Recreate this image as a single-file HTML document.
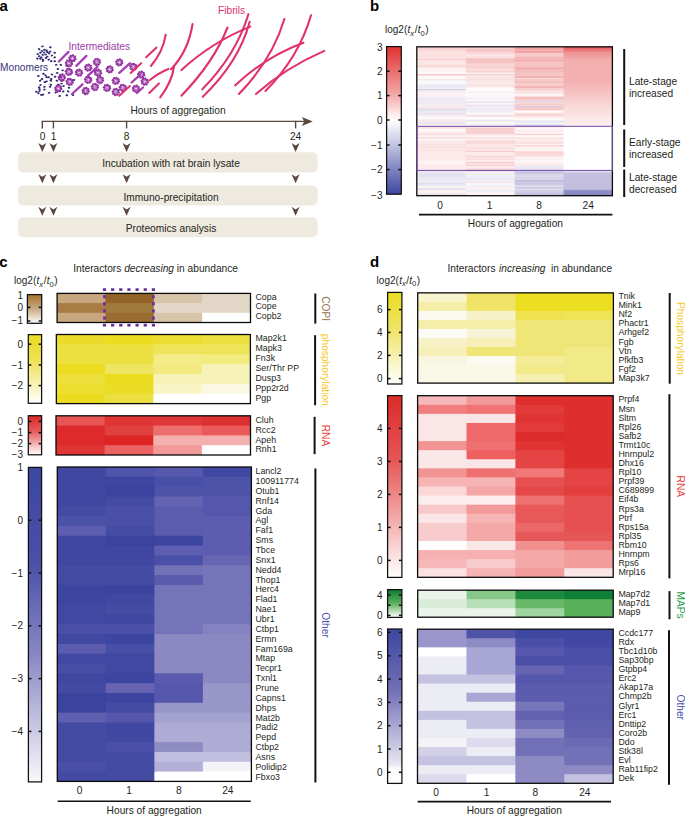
<!DOCTYPE html>
<html><head><meta charset="utf-8"><title>Figure</title>
<style>html,body{margin:0;padding:0;background:#fff;width:685px;height:817px;overflow:hidden;font-family:"Liberation Sans", sans-serif;} svg{display:block}</style>
</head><body>
<svg width="685" height="817" viewBox="0 0 685 817" font-family='"Liberation Sans", sans-serif'><text x="-0.50" y="10.50" font-size="15" text-anchor="start" fill="#000" font-weight="bold">a</text>
<text x="370.00" y="10.50" font-size="15" text-anchor="start" fill="#000" font-weight="bold">b</text>
<text x="-0.70" y="267.20" font-size="15" text-anchor="start" fill="#000" font-weight="bold">c</text>
<text x="369.90" y="267.20" font-size="15" text-anchor="start" fill="#000" font-weight="bold">d</text>
<text x="0.00" y="71.40" font-size="10.2" text-anchor="start" fill="#38367c" >Monomers</text>
<text x="68.40" y="50.30" font-size="10.2" text-anchor="start" fill="#9c3aa6" >Intermediates</text>
<text x="218.00" y="14.20" font-size="10.2" text-anchor="start" fill="#e0306a" >Fibrils</text>
<ellipse cx="42.5" cy="46.4" rx="1.3" ry="0.95" fill="#2f2c72" transform="rotate(-3 42.5 46.4)"/>
<ellipse cx="50.3" cy="47.3" rx="1.3" ry="0.95" fill="#2f2c72" transform="rotate(4 50.3 47.3)"/>
<ellipse cx="39.1" cy="49.1" rx="1.3" ry="0.95" fill="#2f2c72" transform="rotate(25 39.1 49.1)"/>
<ellipse cx="44.4" cy="49.8" rx="1.3" ry="0.95" fill="#2f2c72" transform="rotate(-2 44.4 49.8)"/>
<ellipse cx="42.0" cy="50.9" rx="1.3" ry="0.95" fill="#2f2c72" transform="rotate(0 42.0 50.9)"/>
<ellipse cx="47.3" cy="52.0" rx="1.3" ry="0.95" fill="#2f2c72" transform="rotate(5 47.3 52.0)"/>
<ellipse cx="50.1" cy="51.6" rx="1.3" ry="0.95" fill="#2f2c72" transform="rotate(-19 50.1 51.6)"/>
<ellipse cx="54.7" cy="52.8" rx="1.3" ry="0.95" fill="#2f2c72" transform="rotate(1 54.7 52.8)"/>
<ellipse cx="37.7" cy="54.1" rx="1.3" ry="0.95" fill="#2f2c72" transform="rotate(8 37.7 54.1)"/>
<ellipse cx="42.7" cy="54.8" rx="1.3" ry="0.95" fill="#2f2c72" transform="rotate(18 42.7 54.8)"/>
<ellipse cx="40.5" cy="52.7" rx="1.3" ry="0.95" fill="#2f2c72" transform="rotate(-24 40.5 52.7)"/>
<ellipse cx="45.5" cy="54.4" rx="1.3" ry="0.95" fill="#2f2c72" transform="rotate(-12 45.5 54.4)"/>
<ellipse cx="51.9" cy="55.5" rx="1.3" ry="0.95" fill="#2f2c72" transform="rotate(-25 51.9 55.5)"/>
<ellipse cx="49.0" cy="53.4" rx="1.3" ry="0.95" fill="#2f2c72" transform="rotate(19 49.0 53.4)"/>
<ellipse cx="47.3" cy="56.6" rx="1.3" ry="0.95" fill="#2f2c72" transform="rotate(12 47.3 56.6)"/>
<ellipse cx="54.7" cy="57.3" rx="1.3" ry="0.95" fill="#2f2c72" transform="rotate(-27 54.7 57.3)"/>
<ellipse cx="37.3" cy="58.7" rx="1.3" ry="0.95" fill="#2f2c72" transform="rotate(29 37.3 58.7)"/>
<ellipse cx="40.2" cy="58.7" rx="1.3" ry="0.95" fill="#2f2c72" transform="rotate(28 40.2 58.7)"/>
<ellipse cx="42.7" cy="59.4" rx="1.3" ry="0.95" fill="#2f2c72" transform="rotate(9 42.7 59.4)"/>
<ellipse cx="45.9" cy="58.0" rx="1.3" ry="0.95" fill="#2f2c72" transform="rotate(7 45.9 58.0)"/>
<ellipse cx="48.7" cy="59.6" rx="1.3" ry="0.95" fill="#2f2c72" transform="rotate(-21 48.7 59.6)"/>
<ellipse cx="51.2" cy="61.2" rx="1.3" ry="0.95" fill="#2f2c72" transform="rotate(-29 51.2 61.2)"/>
<ellipse cx="54.7" cy="61.2" rx="1.3" ry="0.95" fill="#2f2c72" transform="rotate(2 54.7 61.2)"/>
<ellipse cx="43.0" cy="60.8" rx="1.3" ry="0.95" fill="#2f2c72" transform="rotate(-26 43.0 60.8)"/>
<ellipse cx="41.2" cy="57.3" rx="1.3" ry="0.95" fill="#2f2c72" transform="rotate(-19 41.2 57.3)"/>
<ellipse cx="39.1" cy="56.2" rx="1.3" ry="0.95" fill="#2f2c72" transform="rotate(-15 39.1 56.2)"/>
<ellipse cx="44.0" cy="52.5" rx="1.3" ry="0.95" fill="#2f2c72" transform="rotate(-28 44.0 52.5)"/>
<ellipse cx="46.5" cy="50.5" rx="1.3" ry="0.95" fill="#2f2c72" transform="rotate(-2 46.5 50.5)"/>
<ellipse cx="56.2" cy="64.9" rx="1.3" ry="0.95" fill="#2f2c72" transform="rotate(-4 56.2 64.9)"/>
<ellipse cx="60.8" cy="64.9" rx="1.3" ry="0.95" fill="#2f2c72" transform="rotate(21 60.8 64.9)"/>
<ellipse cx="57.9" cy="69.0" rx="1.3" ry="0.95" fill="#2f2c72" transform="rotate(1 57.9 69.0)"/>
<ellipse cx="62.6" cy="70.4" rx="1.3" ry="0.95" fill="#2f2c72" transform="rotate(8 62.6 70.4)"/>
<ellipse cx="57.2" cy="72.9" rx="1.3" ry="0.95" fill="#2f2c72" transform="rotate(-0 57.2 72.9)"/>
<ellipse cx="66.8" cy="65.8" rx="1.3" ry="0.95" fill="#2f2c72" transform="rotate(10 66.8 65.8)"/>
<ellipse cx="38.4" cy="76.0" rx="1.3" ry="0.95" fill="#2f2c72" transform="rotate(-3 38.4 76.0)"/>
<ellipse cx="43.4" cy="73.8" rx="1.3" ry="0.95" fill="#2f2c72" transform="rotate(-13 43.4 73.8)"/>
<ellipse cx="45.5" cy="75.4" rx="1.3" ry="0.95" fill="#2f2c72" transform="rotate(30 45.5 75.4)"/>
<ellipse cx="51.9" cy="74.5" rx="1.3" ry="0.95" fill="#2f2c72" transform="rotate(30 51.9 74.5)"/>
<ellipse cx="46.6" cy="77.2" rx="1.3" ry="0.95" fill="#2f2c72" transform="rotate(20 46.6 77.2)"/>
<ellipse cx="48.7" cy="77.2" rx="1.3" ry="0.95" fill="#2f2c72" transform="rotate(12 48.7 77.2)"/>
<ellipse cx="55.1" cy="76.8" rx="1.3" ry="0.95" fill="#2f2c72" transform="rotate(-11 55.1 76.8)"/>
<ellipse cx="42.0" cy="79.0" rx="1.3" ry="0.95" fill="#2f2c72" transform="rotate(-16 42.0 79.0)"/>
<ellipse cx="51.2" cy="79.0" rx="1.3" ry="0.95" fill="#2f2c72" transform="rotate(-13 51.2 79.0)"/>
<ellipse cx="40.2" cy="80.7" rx="1.3" ry="0.95" fill="#2f2c72" transform="rotate(-26 40.2 80.7)"/>
<ellipse cx="44.8" cy="82.1" rx="1.3" ry="0.95" fill="#2f2c72" transform="rotate(16 44.8 82.1)"/>
<ellipse cx="46.6" cy="81.4" rx="1.3" ry="0.95" fill="#2f2c72" transform="rotate(-6 46.6 81.4)"/>
<ellipse cx="50.8" cy="80.7" rx="1.3" ry="0.95" fill="#2f2c72" transform="rotate(21 50.8 80.7)"/>
<ellipse cx="56.9" cy="80.7" rx="1.3" ry="0.95" fill="#2f2c72" transform="rotate(-7 56.9 80.7)"/>
<ellipse cx="60.8" cy="76.8" rx="1.3" ry="0.95" fill="#2f2c72" transform="rotate(27 60.8 76.8)"/>
<ellipse cx="61.8" cy="80.7" rx="1.3" ry="0.95" fill="#2f2c72" transform="rotate(21 61.8 80.7)"/>
<ellipse cx="40.5" cy="85.0" rx="1.3" ry="0.95" fill="#2f2c72" transform="rotate(-30 40.5 85.0)"/>
<ellipse cx="44.4" cy="86.8" rx="1.3" ry="0.95" fill="#2f2c72" transform="rotate(-17 44.4 86.8)"/>
<ellipse cx="50.8" cy="84.6" rx="1.3" ry="0.95" fill="#2f2c72" transform="rotate(25 50.8 84.6)"/>
<ellipse cx="50.1" cy="86.8" rx="1.3" ry="0.95" fill="#2f2c72" transform="rotate(-2 50.1 86.8)"/>
<ellipse cx="58.3" cy="84.6" rx="1.3" ry="0.95" fill="#2f2c72" transform="rotate(29 58.3 84.6)"/>
<ellipse cx="61.5" cy="83.6" rx="1.3" ry="0.95" fill="#2f2c72" transform="rotate(-6 61.5 83.6)"/>
<ellipse cx="63.6" cy="86.0" rx="1.3" ry="0.95" fill="#2f2c72" transform="rotate(-26 63.6 86.0)"/>
<ellipse cx="39.1" cy="87.5" rx="1.3" ry="0.95" fill="#2f2c72" transform="rotate(8 39.1 87.5)"/>
<ellipse cx="39.5" cy="89.2" rx="1.3" ry="0.95" fill="#2f2c72" transform="rotate(17 39.5 89.2)"/>
<ellipse cx="44.4" cy="89.6" rx="1.3" ry="0.95" fill="#2f2c72" transform="rotate(-14 44.4 89.6)"/>
<ellipse cx="39.5" cy="91.0" rx="1.3" ry="0.95" fill="#2f2c72" transform="rotate(-25 39.5 91.0)"/>
<ellipse cx="36.3" cy="91.7" rx="1.3" ry="0.95" fill="#2f2c72" transform="rotate(-10 36.3 91.7)"/>
<ellipse cx="38.4" cy="93.2" rx="1.3" ry="0.95" fill="#2f2c72" transform="rotate(28 38.4 93.2)"/>
<ellipse cx="41.2" cy="94.9" rx="1.3" ry="0.95" fill="#2f2c72" transform="rotate(15 41.2 94.9)"/>
<ellipse cx="43.0" cy="94.6" rx="1.3" ry="0.95" fill="#2f2c72" transform="rotate(-23 43.0 94.6)"/>
<ellipse cx="49.1" cy="92.8" rx="1.3" ry="0.95" fill="#2f2c72" transform="rotate(-15 49.1 92.8)"/>
<ellipse cx="55.8" cy="92.4" rx="1.3" ry="0.95" fill="#2f2c72" transform="rotate(-24 55.8 92.4)"/>
<ellipse cx="63.3" cy="91.4" rx="1.3" ry="0.95" fill="#2f2c72" transform="rotate(-26 63.3 91.4)"/>
<ellipse cx="68.2" cy="91.4" rx="1.3" ry="0.95" fill="#2f2c72" transform="rotate(18 68.2 91.4)"/>
<ellipse cx="59.7" cy="96.0" rx="1.3" ry="0.95" fill="#2f2c72" transform="rotate(-19 59.7 96.0)"/>
<ellipse cx="66.8" cy="95.3" rx="1.3" ry="0.95" fill="#2f2c72" transform="rotate(4 66.8 95.3)"/>
<ellipse cx="69.0" cy="87.8" rx="1.3" ry="0.95" fill="#2f2c72" transform="rotate(-3 69.0 87.8)"/>
<ellipse cx="74.0" cy="80.0" rx="1.3" ry="0.95" fill="#2f2c72" transform="rotate(-19 74.0 80.0)"/>
<ellipse cx="73.0" cy="95.0" rx="1.3" ry="0.95" fill="#2f2c72" transform="rotate(14 73.0 95.0)"/>
<circle cx="75.28" cy="58.98" r="1.26" fill="#9330a0"/><circle cx="74.02" cy="60.85" r="1.26" fill="#9330a0"/><circle cx="71.82" cy="61.28" r="1.26" fill="#9330a0"/><circle cx="69.95" cy="60.02" r="1.26" fill="#9330a0"/><circle cx="69.52" cy="57.82" r="1.26" fill="#9330a0"/><circle cx="70.78" cy="55.95" r="1.26" fill="#9330a0"/><circle cx="72.98" cy="55.52" r="1.26" fill="#9330a0"/><circle cx="74.85" cy="56.78" r="1.26" fill="#9330a0"/><circle cx="72.40" cy="58.40" r="1.26" fill="none" stroke="#9330a0" stroke-width="0.8"/>
<circle cx="71.78" cy="63.88" r="1.26" fill="#9330a0"/><circle cx="70.52" cy="65.75" r="1.26" fill="#9330a0"/><circle cx="68.32" cy="66.18" r="1.26" fill="#9330a0"/><circle cx="66.45" cy="64.92" r="1.26" fill="#9330a0"/><circle cx="66.02" cy="62.72" r="1.26" fill="#9330a0"/><circle cx="67.28" cy="60.85" r="1.26" fill="#9330a0"/><circle cx="69.48" cy="60.42" r="1.26" fill="#9330a0"/><circle cx="71.35" cy="61.68" r="1.26" fill="#9330a0"/><circle cx="68.90" cy="63.30" r="1.26" fill="none" stroke="#9330a0" stroke-width="0.8"/>
<circle cx="71.78" cy="72.38" r="1.26" fill="#9330a0"/><circle cx="70.52" cy="74.25" r="1.26" fill="#9330a0"/><circle cx="68.32" cy="74.68" r="1.26" fill="#9330a0"/><circle cx="66.45" cy="73.42" r="1.26" fill="#9330a0"/><circle cx="66.02" cy="71.22" r="1.26" fill="#9330a0"/><circle cx="67.28" cy="69.35" r="1.26" fill="#9330a0"/><circle cx="69.48" cy="68.92" r="1.26" fill="#9330a0"/><circle cx="71.35" cy="70.18" r="1.26" fill="#9330a0"/><circle cx="68.90" cy="71.80" r="1.26" fill="none" stroke="#9330a0" stroke-width="0.8"/>
<circle cx="81.88" cy="73.28" r="1.26" fill="#9330a0"/><circle cx="80.62" cy="75.15" r="1.26" fill="#9330a0"/><circle cx="78.42" cy="75.58" r="1.26" fill="#9330a0"/><circle cx="76.55" cy="74.32" r="1.26" fill="#9330a0"/><circle cx="76.12" cy="72.12" r="1.26" fill="#9330a0"/><circle cx="77.38" cy="70.25" r="1.26" fill="#9330a0"/><circle cx="79.58" cy="69.82" r="1.26" fill="#9330a0"/><circle cx="81.45" cy="71.08" r="1.26" fill="#9330a0"/><circle cx="79.00" cy="72.70" r="1.26" fill="none" stroke="#9330a0" stroke-width="0.8"/>
<circle cx="64.68" cy="78.08" r="1.26" fill="#9330a0"/><circle cx="63.42" cy="79.95" r="1.26" fill="#9330a0"/><circle cx="61.22" cy="80.38" r="1.26" fill="#9330a0"/><circle cx="59.35" cy="79.12" r="1.26" fill="#9330a0"/><circle cx="58.92" cy="76.92" r="1.26" fill="#9330a0"/><circle cx="60.18" cy="75.05" r="1.26" fill="#9330a0"/><circle cx="62.38" cy="74.62" r="1.26" fill="#9330a0"/><circle cx="64.25" cy="75.88" r="1.26" fill="#9330a0"/><circle cx="61.80" cy="77.50" r="1.26" fill="none" stroke="#9330a0" stroke-width="0.8"/>
<circle cx="72.58" cy="82.38" r="1.26" fill="#9330a0"/><circle cx="71.32" cy="84.25" r="1.26" fill="#9330a0"/><circle cx="69.12" cy="84.68" r="1.26" fill="#9330a0"/><circle cx="67.25" cy="83.42" r="1.26" fill="#9330a0"/><circle cx="66.82" cy="81.22" r="1.26" fill="#9330a0"/><circle cx="68.08" cy="79.35" r="1.26" fill="#9330a0"/><circle cx="70.28" cy="78.92" r="1.26" fill="#9330a0"/><circle cx="72.15" cy="80.18" r="1.26" fill="#9330a0"/><circle cx="69.70" cy="81.80" r="1.26" fill="none" stroke="#9330a0" stroke-width="0.8"/>
<circle cx="61.18" cy="89.08" r="1.26" fill="#9330a0"/><circle cx="59.92" cy="90.95" r="1.26" fill="#9330a0"/><circle cx="57.72" cy="91.38" r="1.26" fill="#9330a0"/><circle cx="55.85" cy="90.12" r="1.26" fill="#9330a0"/><circle cx="55.42" cy="87.92" r="1.26" fill="#9330a0"/><circle cx="56.68" cy="86.05" r="1.26" fill="#9330a0"/><circle cx="58.88" cy="85.62" r="1.26" fill="#9330a0"/><circle cx="60.75" cy="86.88" r="1.26" fill="#9330a0"/><circle cx="58.30" cy="88.50" r="1.26" fill="none" stroke="#9330a0" stroke-width="0.8"/>
<circle cx="91.08" cy="68.18" r="1.26" fill="#9330a0"/><circle cx="89.82" cy="70.05" r="1.26" fill="#9330a0"/><circle cx="87.62" cy="70.48" r="1.26" fill="#9330a0"/><circle cx="85.75" cy="69.22" r="1.26" fill="#9330a0"/><circle cx="85.32" cy="67.02" r="1.26" fill="#9330a0"/><circle cx="86.58" cy="65.15" r="1.26" fill="#9330a0"/><circle cx="88.78" cy="64.72" r="1.26" fill="#9330a0"/><circle cx="90.65" cy="65.98" r="1.26" fill="#9330a0"/><circle cx="88.20" cy="67.60" r="1.26" fill="none" stroke="#9330a0" stroke-width="0.8"/>
<circle cx="99.78" cy="62.58" r="1.26" fill="#9330a0"/><circle cx="98.52" cy="64.45" r="1.26" fill="#9330a0"/><circle cx="96.32" cy="64.88" r="1.26" fill="#9330a0"/><circle cx="94.45" cy="63.62" r="1.26" fill="#9330a0"/><circle cx="94.02" cy="61.42" r="1.26" fill="#9330a0"/><circle cx="95.28" cy="59.55" r="1.26" fill="#9330a0"/><circle cx="97.48" cy="59.12" r="1.26" fill="#9330a0"/><circle cx="99.35" cy="60.38" r="1.26" fill="#9330a0"/><circle cx="96.90" cy="62.00" r="1.26" fill="none" stroke="#9330a0" stroke-width="0.8"/>
<circle cx="100.88" cy="73.28" r="1.26" fill="#9330a0"/><circle cx="99.62" cy="75.15" r="1.26" fill="#9330a0"/><circle cx="97.42" cy="75.58" r="1.26" fill="#9330a0"/><circle cx="95.55" cy="74.32" r="1.26" fill="#9330a0"/><circle cx="95.12" cy="72.12" r="1.26" fill="#9330a0"/><circle cx="96.38" cy="70.25" r="1.26" fill="#9330a0"/><circle cx="98.58" cy="69.82" r="1.26" fill="#9330a0"/><circle cx="100.45" cy="71.08" r="1.26" fill="#9330a0"/><circle cx="98.00" cy="72.70" r="1.26" fill="none" stroke="#9330a0" stroke-width="0.8"/>
<circle cx="91.08" cy="80.38" r="1.26" fill="#9330a0"/><circle cx="89.82" cy="82.25" r="1.26" fill="#9330a0"/><circle cx="87.62" cy="82.68" r="1.26" fill="#9330a0"/><circle cx="85.75" cy="81.42" r="1.26" fill="#9330a0"/><circle cx="85.32" cy="79.22" r="1.26" fill="#9330a0"/><circle cx="86.58" cy="77.35" r="1.26" fill="#9330a0"/><circle cx="88.78" cy="76.92" r="1.26" fill="#9330a0"/><circle cx="90.65" cy="78.18" r="1.26" fill="#9330a0"/><circle cx="88.20" cy="79.80" r="1.26" fill="none" stroke="#9330a0" stroke-width="0.8"/>
<circle cx="102.88" cy="80.58" r="1.26" fill="#9330a0"/><circle cx="101.62" cy="82.45" r="1.26" fill="#9330a0"/><circle cx="99.42" cy="82.88" r="1.26" fill="#9330a0"/><circle cx="97.55" cy="81.62" r="1.26" fill="#9330a0"/><circle cx="97.12" cy="79.42" r="1.26" fill="#9330a0"/><circle cx="98.38" cy="77.55" r="1.26" fill="#9330a0"/><circle cx="100.58" cy="77.12" r="1.26" fill="#9330a0"/><circle cx="102.45" cy="78.38" r="1.26" fill="#9330a0"/><circle cx="100.00" cy="80.00" r="1.26" fill="none" stroke="#9330a0" stroke-width="0.8"/>
<circle cx="97.78" cy="87.58" r="1.26" fill="#9330a0"/><circle cx="96.52" cy="89.45" r="1.26" fill="#9330a0"/><circle cx="94.32" cy="89.88" r="1.26" fill="#9330a0"/><circle cx="92.45" cy="88.62" r="1.26" fill="#9330a0"/><circle cx="92.02" cy="86.42" r="1.26" fill="#9330a0"/><circle cx="93.28" cy="84.55" r="1.26" fill="#9330a0"/><circle cx="95.48" cy="84.12" r="1.26" fill="#9330a0"/><circle cx="97.35" cy="85.38" r="1.26" fill="#9330a0"/><circle cx="94.90" cy="87.00" r="1.26" fill="none" stroke="#9330a0" stroke-width="0.8"/>
<circle cx="88.58" cy="91.58" r="1.26" fill="#9330a0"/><circle cx="87.32" cy="93.45" r="1.26" fill="#9330a0"/><circle cx="85.12" cy="93.88" r="1.26" fill="#9330a0"/><circle cx="83.25" cy="92.62" r="1.26" fill="#9330a0"/><circle cx="82.82" cy="90.42" r="1.26" fill="#9330a0"/><circle cx="84.08" cy="88.55" r="1.26" fill="#9330a0"/><circle cx="86.28" cy="88.12" r="1.26" fill="#9330a0"/><circle cx="88.15" cy="89.38" r="1.26" fill="#9330a0"/><circle cx="85.70" cy="91.00" r="1.26" fill="none" stroke="#9330a0" stroke-width="0.8"/>
<circle cx="112.58" cy="69.98" r="1.26" fill="#9330a0"/><circle cx="111.32" cy="71.85" r="1.26" fill="#9330a0"/><circle cx="109.12" cy="72.28" r="1.26" fill="#9330a0"/><circle cx="107.25" cy="71.02" r="1.26" fill="#9330a0"/><circle cx="106.82" cy="68.82" r="1.26" fill="#9330a0"/><circle cx="108.08" cy="66.95" r="1.26" fill="#9330a0"/><circle cx="110.28" cy="66.52" r="1.26" fill="#9330a0"/><circle cx="112.15" cy="67.78" r="1.26" fill="#9330a0"/><circle cx="109.70" cy="69.40" r="1.26" fill="none" stroke="#9330a0" stroke-width="0.8"/>
<circle cx="122.18" cy="62.98" r="1.26" fill="#9330a0"/><circle cx="120.92" cy="64.85" r="1.26" fill="#9330a0"/><circle cx="118.72" cy="65.28" r="1.26" fill="#9330a0"/><circle cx="116.85" cy="64.02" r="1.26" fill="#9330a0"/><circle cx="116.42" cy="61.82" r="1.26" fill="#9330a0"/><circle cx="117.68" cy="59.95" r="1.26" fill="#9330a0"/><circle cx="119.88" cy="59.52" r="1.26" fill="#9330a0"/><circle cx="121.75" cy="60.78" r="1.26" fill="#9330a0"/><circle cx="119.30" cy="62.40" r="1.26" fill="none" stroke="#9330a0" stroke-width="0.8"/>
<circle cx="118.68" cy="81.38" r="1.26" fill="#9330a0"/><circle cx="117.42" cy="83.25" r="1.26" fill="#9330a0"/><circle cx="115.22" cy="83.68" r="1.26" fill="#9330a0"/><circle cx="113.35" cy="82.42" r="1.26" fill="#9330a0"/><circle cx="112.92" cy="80.22" r="1.26" fill="#9330a0"/><circle cx="114.18" cy="78.35" r="1.26" fill="#9330a0"/><circle cx="116.38" cy="77.92" r="1.26" fill="#9330a0"/><circle cx="118.25" cy="79.18" r="1.26" fill="#9330a0"/><circle cx="115.80" cy="80.80" r="1.26" fill="none" stroke="#9330a0" stroke-width="0.8"/>
<circle cx="109.88" cy="88.38" r="1.26" fill="#9330a0"/><circle cx="108.62" cy="90.25" r="1.26" fill="#9330a0"/><circle cx="106.42" cy="90.68" r="1.26" fill="#9330a0"/><circle cx="104.55" cy="89.42" r="1.26" fill="#9330a0"/><circle cx="104.12" cy="87.22" r="1.26" fill="#9330a0"/><circle cx="105.38" cy="85.35" r="1.26" fill="#9330a0"/><circle cx="107.58" cy="84.92" r="1.26" fill="#9330a0"/><circle cx="109.45" cy="86.18" r="1.26" fill="#9330a0"/><circle cx="107.00" cy="87.80" r="1.26" fill="none" stroke="#9330a0" stroke-width="0.8"/>
<circle cx="118.68" cy="92.58" r="1.26" fill="#9330a0"/><circle cx="117.42" cy="94.45" r="1.26" fill="#9330a0"/><circle cx="115.22" cy="94.88" r="1.26" fill="#9330a0"/><circle cx="113.35" cy="93.62" r="1.26" fill="#9330a0"/><circle cx="112.92" cy="91.42" r="1.26" fill="#9330a0"/><circle cx="114.18" cy="89.55" r="1.26" fill="#9330a0"/><circle cx="116.38" cy="89.12" r="1.26" fill="#9330a0"/><circle cx="118.25" cy="90.38" r="1.26" fill="#9330a0"/><circle cx="115.80" cy="92.00" r="1.26" fill="none" stroke="#9330a0" stroke-width="0.8"/>
<circle cx="125.68" cy="88.38" r="1.26" fill="#9330a0"/><circle cx="124.42" cy="90.25" r="1.26" fill="#9330a0"/><circle cx="122.22" cy="90.68" r="1.26" fill="#9330a0"/><circle cx="120.35" cy="89.42" r="1.26" fill="#9330a0"/><circle cx="119.92" cy="87.22" r="1.26" fill="#9330a0"/><circle cx="121.18" cy="85.35" r="1.26" fill="#9330a0"/><circle cx="123.38" cy="84.92" r="1.26" fill="#9330a0"/><circle cx="125.25" cy="86.18" r="1.26" fill="#9330a0"/><circle cx="122.80" cy="87.80" r="1.26" fill="none" stroke="#9330a0" stroke-width="0.8"/>
<circle cx="136.18" cy="67.38" r="1.26" fill="#9330a0"/><circle cx="134.92" cy="69.25" r="1.26" fill="#9330a0"/><circle cx="132.72" cy="69.68" r="1.26" fill="#9330a0"/><circle cx="130.85" cy="68.42" r="1.26" fill="#9330a0"/><circle cx="130.42" cy="66.22" r="1.26" fill="#9330a0"/><circle cx="131.68" cy="64.35" r="1.26" fill="#9330a0"/><circle cx="133.88" cy="63.92" r="1.26" fill="#9330a0"/><circle cx="135.75" cy="65.18" r="1.26" fill="#9330a0"/><circle cx="133.30" cy="66.80" r="1.26" fill="none" stroke="#9330a0" stroke-width="0.8"/>
<circle cx="144.08" cy="75.28" r="1.26" fill="#9330a0"/><circle cx="142.82" cy="77.15" r="1.26" fill="#9330a0"/><circle cx="140.62" cy="77.58" r="1.26" fill="#9330a0"/><circle cx="138.75" cy="76.32" r="1.26" fill="#9330a0"/><circle cx="138.32" cy="74.12" r="1.26" fill="#9330a0"/><circle cx="139.58" cy="72.25" r="1.26" fill="#9330a0"/><circle cx="141.78" cy="71.82" r="1.26" fill="#9330a0"/><circle cx="143.65" cy="73.08" r="1.26" fill="#9330a0"/><circle cx="141.20" cy="74.70" r="1.26" fill="none" stroke="#9330a0" stroke-width="0.8"/>
<circle cx="147.58" cy="82.28" r="1.26" fill="#9330a0"/><circle cx="146.32" cy="84.15" r="1.26" fill="#9330a0"/><circle cx="144.12" cy="84.58" r="1.26" fill="#9330a0"/><circle cx="142.25" cy="83.32" r="1.26" fill="#9330a0"/><circle cx="141.82" cy="81.12" r="1.26" fill="#9330a0"/><circle cx="143.08" cy="79.25" r="1.26" fill="#9330a0"/><circle cx="145.28" cy="78.82" r="1.26" fill="#9330a0"/><circle cx="147.15" cy="80.08" r="1.26" fill="#9330a0"/><circle cx="144.70" cy="81.70" r="1.26" fill="none" stroke="#9330a0" stroke-width="0.8"/>
<circle cx="138.88" cy="89.28" r="1.26" fill="#9330a0"/><circle cx="137.62" cy="91.15" r="1.26" fill="#9330a0"/><circle cx="135.42" cy="91.58" r="1.26" fill="#9330a0"/><circle cx="133.55" cy="90.32" r="1.26" fill="#9330a0"/><circle cx="133.12" cy="88.12" r="1.26" fill="#9330a0"/><circle cx="134.38" cy="86.25" r="1.26" fill="#9330a0"/><circle cx="136.58" cy="85.82" r="1.26" fill="#9330a0"/><circle cx="138.45" cy="87.08" r="1.26" fill="#9330a0"/><circle cx="136.00" cy="88.70" r="1.26" fill="none" stroke="#9330a0" stroke-width="0.8"/>
<line x1="58.90" y1="61.50" x2="68.50" y2="51.90" stroke="#a23fb4" stroke-width="2.3" stroke-linecap="round"/>
<line x1="76.40" y1="65.90" x2="86.40" y2="55.90" stroke="#a23fb4" stroke-width="2.3" stroke-linecap="round"/>
<line x1="87.80" y1="75.90" x2="97.40" y2="66.80" stroke="#a23fb4" stroke-width="2.3" stroke-linecap="round"/>
<line x1="72.00" y1="94.00" x2="82.50" y2="84.30" stroke="#a23fb4" stroke-width="2.3" stroke-linecap="round"/>
<line x1="119.30" y1="72.90" x2="129.80" y2="63.30" stroke="#a23fb4" stroke-width="2.3" stroke-linecap="round"/>
<line x1="131.60" y1="82.50" x2="140.30" y2="74.70" stroke="#a23fb4" stroke-width="2.3" stroke-linecap="round"/>
<line x1="137.00" y1="93.00" x2="143.00" y2="87.50" stroke="#a23fb4" stroke-width="2.3" stroke-linecap="round"/>
<path d="M130.7,72.9 L141.2,63.3" fill="none" stroke="#e0326c" stroke-width="2.1" stroke-linecap="round"/>
<path d="M119.3,95.7 L129.8,86" fill="none" stroke="#e0326c" stroke-width="2.1" stroke-linecap="round"/>
<path d="M146.1,57.2 L156.5,47.6" fill="none" stroke="#e0326c" stroke-width="2.1" stroke-linecap="round"/>
<path d="M150.9,66 Q163,52 165.7,34.7" fill="none" stroke="#e0326c" stroke-width="2.1" stroke-linecap="round"/>
<path d="M149.3,80.5 Q158,73 168.5,68.9" fill="none" stroke="#e0326c" stroke-width="2.1" stroke-linecap="round"/>
<path d="M149.3,93 L158.9,83.4" fill="none" stroke="#e0326c" stroke-width="2.1" stroke-linecap="round"/>
<path d="M160.2,97.3 Q172,82 174,66.5" fill="none" stroke="#e0326c" stroke-width="2.1" stroke-linecap="round"/>
<path d="M171,69.2 Q188,52 192.6,24" fill="none" stroke="#e0326c" stroke-width="2.1" stroke-linecap="round"/>
<path d="M181.4,70 Q212,42 250.3,26.6" fill="none" stroke="#e0326c" stroke-width="2.1" stroke-linecap="round"/>
<path d="M181.4,95.7 Q214,62 227.5,27.5" fill="none" stroke="#e0326c" stroke-width="2.1" stroke-linecap="round"/>
<path d="M202.3,89.3 Q236,55 248.4,14.2" fill="none" stroke="#e0326c" stroke-width="2.1" stroke-linecap="round"/>
<path d="M202.8,96.8 Q239,62 249.7,21.8" fill="none" stroke="#e0326c" stroke-width="2.1" stroke-linecap="round"/>
<path d="M238.9,94 Q272,60 284.4,19" fill="none" stroke="#e0326c" stroke-width="2.1" stroke-linecap="round"/>
<path d="M265.5,91 Q299,57 311,15.2" fill="none" stroke="#e0326c" stroke-width="2.1" stroke-linecap="round"/>
<path d="M235.1,85.4 Q265,57 303.4,42.7" fill="none" stroke="#e0326c" stroke-width="2.1" stroke-linecap="round"/>
<path d="M256,94 Q285,68 324.3,50.9" fill="none" stroke="#e0326c" stroke-width="2.1" stroke-linecap="round"/>
<text x="130.50" y="114.00" font-size="10.2" text-anchor="start" fill="#231f20" >Hours of aggregation</text>
<line x1="42.30" y1="121.40" x2="306.00" y2="121.40" stroke="#5a4741" stroke-width="1.4" />
<path d="M301.8,116.9 L312.8,121.4 L301.8,125.9 L304.3,121.4 Z" fill="#5a4741"/>
<line x1="42.30" y1="120.80" x2="42.30" y2="128.40" stroke="#5a4741" stroke-width="1.4" />
<line x1="53.40" y1="120.80" x2="53.40" y2="128.40" stroke="#5a4741" stroke-width="1.4" />
<line x1="126.60" y1="120.80" x2="126.60" y2="128.40" stroke="#5a4741" stroke-width="1.4" />
<line x1="295.60" y1="120.80" x2="295.60" y2="128.40" stroke="#5a4741" stroke-width="1.4" />
<text x="42.50" y="139.60" font-size="10.2" text-anchor="middle" fill="#231f20" >0</text>
<text x="53.60" y="139.60" font-size="10.2" text-anchor="middle" fill="#231f20" >1</text>
<text x="126.60" y="139.60" font-size="10.2" text-anchor="middle" fill="#231f20" >8</text>
<text x="295.60" y="139.60" font-size="10.2" text-anchor="middle" fill="#231f20" >24</text>
<path d="M38.30,143.00 L42.30,145.60 L46.30,143.00 L42.30,152.00 Z" fill="#5a4741"/>
<path d="M49.40,143.00 L53.40,145.60 L57.40,143.00 L53.40,152.00 Z" fill="#5a4741"/>
<path d="M122.60,143.00 L126.60,145.60 L130.60,143.00 L126.60,152.00 Z" fill="#5a4741"/>
<path d="M291.60,143.00 L295.60,145.60 L299.60,143.00 L295.60,152.00 Z" fill="#5a4741"/>
<path d="M38.30,174.20 L42.30,176.80 L46.30,174.20 L42.30,183.20 Z" fill="#5a4741"/>
<path d="M49.40,174.20 L53.40,176.80 L57.40,174.20 L53.40,183.20 Z" fill="#5a4741"/>
<path d="M122.60,174.20 L126.60,176.80 L130.60,174.20 L126.60,183.20 Z" fill="#5a4741"/>
<path d="M291.60,174.20 L295.60,176.80 L299.60,174.20 L295.60,183.20 Z" fill="#5a4741"/>
<path d="M38.30,206.80 L42.30,209.40 L46.30,206.80 L42.30,215.80 Z" fill="#5a4741"/>
<path d="M49.40,206.80 L53.40,209.40 L57.40,206.80 L53.40,215.80 Z" fill="#5a4741"/>
<path d="M122.60,206.80 L126.60,209.40 L130.60,206.80 L126.60,215.80 Z" fill="#5a4741"/>
<path d="M291.60,206.80 L295.60,209.40 L299.60,206.80 L295.60,215.80 Z" fill="#5a4741"/>
<rect x="18" y="152.2" width="299.6" height="20.2" rx="5" ry="5" fill="#efeadf"/>
<text x="171.00" y="167.10" font-size="10.2" text-anchor="middle" fill="#231f20" >Incubation with rat brain lysate</text>
<rect x="18" y="185.6" width="299.6" height="19.8" rx="5" ry="5" fill="#efeadf"/>
<text x="171.00" y="200.50" font-size="10.2" text-anchor="middle" fill="#231f20" >Immuno-precipitation</text>
<rect x="18" y="217.2" width="299.6" height="20.0" rx="5" ry="5" fill="#efeadf"/>
<text x="171.00" y="232.40" font-size="10.2" text-anchor="middle" fill="#231f20" >Proteomics analysis</text>
<text x="385.00" y="33.30" font-size="10" fill="#231f20">log2(<tspan font-style="italic" dx="0.3">t</tspan><tspan font-style="italic" font-size="7.6" dy="2.6">x</tspan><tspan dy="-2.6" dx="0.5">/</tspan><tspan font-style="italic" dx="0.3">t</tspan><tspan font-size="7.6" dy="2.6">0</tspan><tspan dy="-2.6" dx="0.5">)</tspan></text>
<defs><linearGradient id="g0" x1="0" y1="0" x2="0" y2="1"><stop offset="0" stop-color="#e03232"/><stop offset="0.33" stop-color="#f4aaaa"/><stop offset="0.5" stop-color="#ffffff"/><stop offset="0.66" stop-color="#c4c6e2"/><stop offset="1" stop-color="#3c46a0"/></linearGradient></defs>
<rect x="386.60" y="46.60" width="14.70" height="147.60" fill="url(#g0)" />
<line x1="386.60" y1="71.20" x2="389.60" y2="71.20" stroke="#111" stroke-width="1.5" />
<line x1="398.30" y1="71.20" x2="401.30" y2="71.20" stroke="#111" stroke-width="1.5" />
<line x1="386.60" y1="95.60" x2="389.60" y2="95.60" stroke="#111" stroke-width="1.5" />
<line x1="398.30" y1="95.60" x2="401.30" y2="95.60" stroke="#111" stroke-width="1.5" />
<line x1="386.60" y1="120.00" x2="389.60" y2="120.00" stroke="#111" stroke-width="1.5" />
<line x1="398.30" y1="120.00" x2="401.30" y2="120.00" stroke="#111" stroke-width="1.5" />
<line x1="386.60" y1="145.00" x2="389.60" y2="145.00" stroke="#111" stroke-width="1.5" />
<line x1="398.30" y1="145.00" x2="401.30" y2="145.00" stroke="#111" stroke-width="1.5" />
<line x1="386.60" y1="169.60" x2="389.60" y2="169.60" stroke="#111" stroke-width="1.5" />
<line x1="398.30" y1="169.60" x2="401.30" y2="169.60" stroke="#111" stroke-width="1.5" />
<rect x="386.60" y="46.60" width="14.70" height="147.60" fill="none" stroke="#111" stroke-width="1.25"/>
<text x="382.50" y="50.90" font-size="10" text-anchor="end" fill="#231f20" >3</text>
<text x="382.50" y="75.00" font-size="10" text-anchor="end" fill="#231f20" >2</text>
<text x="382.50" y="99.40" font-size="10" text-anchor="end" fill="#231f20" >1</text>
<text x="382.50" y="123.80" font-size="10" text-anchor="end" fill="#231f20" >0</text>
<text x="382.50" y="148.80" font-size="10" text-anchor="end" fill="#231f20" >−1</text>
<text x="382.50" y="173.40" font-size="10" text-anchor="end" fill="#231f20" >−2</text>
<text x="382.50" y="198.60" font-size="10" text-anchor="end" fill="#231f20" >−3</text>
<rect x="416.80" y="46.80" width="49.90" height="2.50" fill="#f9dada" />
<rect x="465.70" y="46.80" width="49.90" height="2.50" fill="#f9d9d9" />
<rect x="514.60" y="46.80" width="49.90" height="2.50" fill="#f3b2b2" />
<rect x="563.50" y="46.80" width="48.90" height="2.50" fill="#e65b5b" />
<rect x="416.80" y="48.30" width="49.90" height="2.20" fill="#f8d0d0" />
<rect x="465.70" y="48.30" width="49.90" height="2.20" fill="#f7c8c8" />
<rect x="514.60" y="48.30" width="49.90" height="2.20" fill="#f09a9a" />
<rect x="563.50" y="48.30" width="48.90" height="2.20" fill="#e96c6c" />
<rect x="416.80" y="49.50" width="49.90" height="3.00" fill="#f9d8d8" />
<rect x="465.70" y="49.50" width="49.90" height="3.00" fill="#f6c3c3" />
<rect x="514.60" y="49.50" width="49.90" height="3.00" fill="#f3b2b2" />
<rect x="563.50" y="49.50" width="48.90" height="3.00" fill="#eb7a7a" />
<rect x="416.80" y="51.50" width="49.90" height="2.20" fill="#fbe5e5" />
<rect x="465.70" y="51.50" width="49.90" height="2.20" fill="#f9d5d5" />
<rect x="514.60" y="51.50" width="49.90" height="2.20" fill="#ef9494" />
<rect x="563.50" y="51.50" width="48.90" height="2.20" fill="#ee9191" />
<rect x="416.80" y="52.70" width="49.90" height="3.00" fill="#fbe2e2" />
<rect x="465.70" y="52.70" width="49.90" height="3.00" fill="#f9d8d8" />
<rect x="514.60" y="52.70" width="49.90" height="3.00" fill="#f7cdcd" />
<rect x="563.50" y="52.70" width="48.90" height="3.00" fill="#ef9696" />
<rect x="416.80" y="54.70" width="49.90" height="3.00" fill="#fadfdf" />
<rect x="465.70" y="54.70" width="49.90" height="3.00" fill="#fbe6e6" />
<rect x="514.60" y="54.70" width="49.90" height="3.00" fill="#f7cbcb" />
<rect x="563.50" y="54.70" width="48.90" height="3.00" fill="#f09e9e" />
<rect x="416.80" y="56.70" width="49.90" height="3.00" fill="#fbe3e3" />
<rect x="465.70" y="56.70" width="49.90" height="3.00" fill="#f9dada" />
<rect x="514.60" y="56.70" width="49.90" height="3.00" fill="#f4b6b6" />
<rect x="563.50" y="56.70" width="48.90" height="3.00" fill="#f1a5a5" />
<rect x="416.80" y="58.70" width="49.90" height="2.50" fill="#f8d0d0" />
<rect x="465.70" y="58.70" width="49.90" height="2.50" fill="#f5baba" />
<rect x="514.60" y="58.70" width="49.90" height="2.50" fill="#f5baba" />
<rect x="563.50" y="58.70" width="48.90" height="2.50" fill="#f3adad" />
<rect x="416.80" y="60.20" width="49.90" height="2.00" fill="#fce9e9" />
<rect x="465.70" y="60.20" width="49.90" height="2.00" fill="#f6c6c6" />
<rect x="514.60" y="60.20" width="49.90" height="2.00" fill="#f1a3a3" />
<rect x="563.50" y="60.20" width="48.90" height="2.00" fill="#f3adad" />
<rect x="416.80" y="61.20" width="49.90" height="2.50" fill="#fbe7e7" />
<rect x="465.70" y="61.20" width="49.90" height="2.50" fill="#f6c3c3" />
<rect x="514.60" y="61.20" width="49.90" height="2.50" fill="#f6c4c4" />
<rect x="563.50" y="61.20" width="48.90" height="2.50" fill="#f3aeae" />
<rect x="416.80" y="62.70" width="49.90" height="2.00" fill="#fce9e9" />
<rect x="465.70" y="62.70" width="49.90" height="2.00" fill="#f7cbcb" />
<rect x="514.60" y="62.70" width="49.90" height="2.00" fill="#f6c3c3" />
<rect x="563.50" y="62.70" width="48.90" height="2.00" fill="#f3aeae" />
<rect x="416.80" y="63.70" width="49.90" height="3.00" fill="#fbe3e3" />
<rect x="465.70" y="63.70" width="49.90" height="3.00" fill="#f9d5d5" />
<rect x="514.60" y="63.70" width="49.90" height="3.00" fill="#f6c2c2" />
<rect x="563.50" y="63.70" width="48.90" height="3.00" fill="#f3aeae" />
<rect x="416.80" y="65.70" width="49.90" height="2.00" fill="#f8d3d3" />
<rect x="465.70" y="65.70" width="49.90" height="2.00" fill="#f9d4d4" />
<rect x="514.60" y="65.70" width="49.90" height="2.00" fill="#f6c2c2" />
<rect x="563.50" y="65.70" width="48.90" height="2.00" fill="#f3afaf" />
<rect x="416.80" y="66.70" width="49.90" height="2.00" fill="#fadede" />
<rect x="465.70" y="66.70" width="49.90" height="2.00" fill="#f7caca" />
<rect x="514.60" y="66.70" width="49.90" height="2.00" fill="#f6c2c2" />
<rect x="563.50" y="66.70" width="48.90" height="2.00" fill="#f3afaf" />
<rect x="416.80" y="67.70" width="49.90" height="2.00" fill="#fdf1f1" />
<rect x="465.70" y="67.70" width="49.90" height="2.00" fill="#f8d3d3" />
<rect x="514.60" y="67.70" width="49.90" height="2.00" fill="#f09e9e" />
<rect x="563.50" y="67.70" width="48.90" height="2.00" fill="#f3b0b0" />
<rect x="416.80" y="68.70" width="49.90" height="2.20" fill="#fdf4f4" />
<rect x="465.70" y="68.70" width="49.90" height="2.20" fill="#fbe4e4" />
<rect x="514.60" y="68.70" width="49.90" height="2.20" fill="#f5bdbd" />
<rect x="563.50" y="68.70" width="48.90" height="2.20" fill="#f3b0b0" />
<rect x="416.80" y="69.90" width="49.90" height="2.50" fill="#fdefef" />
<rect x="465.70" y="69.90" width="49.90" height="2.50" fill="#f9d6d6" />
<rect x="514.60" y="69.90" width="49.90" height="2.50" fill="#f5baba" />
<rect x="563.50" y="69.90" width="48.90" height="2.50" fill="#f3b0b0" />
<rect x="416.80" y="71.40" width="49.90" height="2.00" fill="#fef9f9" />
<rect x="465.70" y="71.40" width="49.90" height="2.00" fill="#f7cdcd" />
<rect x="514.60" y="71.40" width="49.90" height="2.00" fill="#f5bdbd" />
<rect x="563.50" y="71.40" width="48.90" height="2.00" fill="#f3b1b1" />
<rect x="416.80" y="72.40" width="49.90" height="2.50" fill="#fefbfb" />
<rect x="465.70" y="72.40" width="49.90" height="2.50" fill="#fdf1f1" />
<rect x="514.60" y="72.40" width="49.90" height="2.50" fill="#f6c5c5" />
<rect x="563.50" y="72.40" width="48.90" height="2.50" fill="#f3b1b1" />
<rect x="416.80" y="73.90" width="49.90" height="2.50" fill="#f7cccc" />
<rect x="465.70" y="73.90" width="49.90" height="2.50" fill="#f8d2d2" />
<rect x="514.60" y="73.90" width="49.90" height="2.50" fill="#f6c5c5" />
<rect x="563.50" y="73.90" width="48.90" height="2.50" fill="#f3b1b1" />
<rect x="416.80" y="75.40" width="49.90" height="2.00" fill="#fcecec" />
<rect x="465.70" y="75.40" width="49.90" height="2.00" fill="#fceded" />
<rect x="514.60" y="75.40" width="49.90" height="2.00" fill="#f5c0c0" />
<rect x="563.50" y="75.40" width="48.90" height="2.00" fill="#f3b2b2" />
<rect x="416.80" y="76.40" width="49.90" height="2.50" fill="#fbfafd" />
<rect x="465.70" y="76.40" width="49.90" height="2.50" fill="#fbe7e7" />
<rect x="514.60" y="76.40" width="49.90" height="2.50" fill="#f3afaf" />
<rect x="563.50" y="76.40" width="48.90" height="2.50" fill="#f3b2b2" />
<rect x="416.80" y="77.90" width="49.90" height="2.00" fill="#fcfcfd" />
<rect x="465.70" y="77.90" width="49.90" height="2.00" fill="#fadddd" />
<rect x="514.60" y="77.90" width="49.90" height="2.00" fill="#f9dada" />
<rect x="563.50" y="77.90" width="48.90" height="2.00" fill="#f3b2b2" />
<rect x="416.80" y="78.90" width="49.90" height="2.00" fill="#fbe3e3" />
<rect x="465.70" y="78.90" width="49.90" height="2.00" fill="#fae0e0" />
<rect x="514.60" y="78.90" width="49.90" height="2.00" fill="#f7c9c9" />
<rect x="563.50" y="78.90" width="48.90" height="2.00" fill="#f3b3b3" />
<rect x="416.80" y="79.90" width="49.90" height="3.00" fill="#f3f3f9" />
<rect x="465.70" y="79.90" width="49.90" height="3.00" fill="#fbe6e6" />
<rect x="514.60" y="79.90" width="49.90" height="3.00" fill="#f7c9c9" />
<rect x="563.50" y="79.90" width="48.90" height="3.00" fill="#f4b3b3" />
<rect x="416.80" y="81.90" width="49.90" height="2.00" fill="#ffffff" />
<rect x="465.70" y="81.90" width="49.90" height="2.00" fill="#fce9e9" />
<rect x="514.60" y="81.90" width="49.90" height="2.00" fill="#f4b6b6" />
<rect x="563.50" y="81.90" width="48.90" height="2.00" fill="#f4b4b4" />
<rect x="416.80" y="82.90" width="49.90" height="2.50" fill="#f7f6fb" />
<rect x="465.70" y="82.90" width="49.90" height="2.50" fill="#fceaea" />
<rect x="514.60" y="82.90" width="49.90" height="2.50" fill="#f8cfcf" />
<rect x="563.50" y="82.90" width="48.90" height="2.50" fill="#f4b4b4" />
<rect x="416.80" y="84.40" width="49.90" height="2.20" fill="#eae9f4" />
<rect x="465.70" y="84.40" width="49.90" height="2.20" fill="#fbe3e3" />
<rect x="514.60" y="84.40" width="49.90" height="2.20" fill="#f8cfcf" />
<rect x="563.50" y="84.40" width="48.90" height="2.20" fill="#f4b7b7" />
<rect x="416.80" y="85.60" width="49.90" height="2.00" fill="#eeedf6" />
<rect x="465.70" y="85.60" width="49.90" height="2.00" fill="#fbe4e4" />
<rect x="514.60" y="85.60" width="49.90" height="2.00" fill="#f5bfbf" />
<rect x="563.50" y="85.60" width="48.90" height="2.00" fill="#f4b9b9" />
<rect x="416.80" y="86.60" width="49.90" height="2.50" fill="#eae8f3" />
<rect x="465.70" y="86.60" width="49.90" height="2.50" fill="#fdf0f0" />
<rect x="514.60" y="86.60" width="49.90" height="2.50" fill="#f4b3b3" />
<rect x="563.50" y="86.60" width="48.90" height="2.50" fill="#f5baba" />
<rect x="416.80" y="88.10" width="49.90" height="2.00" fill="#f1f0f7" />
<rect x="465.70" y="88.10" width="49.90" height="2.00" fill="#fcfcfe" />
<rect x="514.60" y="88.10" width="49.90" height="2.00" fill="#f8d4d4" />
<rect x="563.50" y="88.10" width="48.90" height="2.00" fill="#f5bdbd" />
<rect x="416.80" y="89.10" width="49.90" height="2.00" fill="#cfcce5" />
<rect x="465.70" y="89.10" width="49.90" height="2.00" fill="#fef6f6" />
<rect x="514.60" y="89.10" width="49.90" height="2.00" fill="#f8d0d0" />
<rect x="563.50" y="89.10" width="48.90" height="2.00" fill="#f5bebe" />
<rect x="416.80" y="90.10" width="49.90" height="2.00" fill="#fbe6e6" />
<rect x="465.70" y="90.10" width="49.90" height="2.00" fill="#fdfdfe" />
<rect x="514.60" y="90.10" width="49.90" height="2.00" fill="#fadbdb" />
<rect x="563.50" y="90.10" width="48.90" height="2.00" fill="#f5c0c0" />
<rect x="416.80" y="91.10" width="49.90" height="2.50" fill="#eeedf6" />
<rect x="465.70" y="91.10" width="49.90" height="2.50" fill="#f4f3f9" />
<rect x="514.60" y="91.10" width="49.90" height="2.50" fill="#fbe6e6" />
<rect x="563.50" y="91.10" width="48.90" height="2.50" fill="#f6c1c1" />
<rect x="416.80" y="92.60" width="49.90" height="2.50" fill="#fef5f5" />
<rect x="465.70" y="92.60" width="49.90" height="2.50" fill="#f7f6fb" />
<rect x="514.60" y="92.60" width="49.90" height="2.50" fill="#fbe3e3" />
<rect x="563.50" y="92.60" width="48.90" height="2.50" fill="#f6c4c4" />
<rect x="416.80" y="94.10" width="49.90" height="2.50" fill="#fdefef" />
<rect x="465.70" y="94.10" width="49.90" height="2.50" fill="#fefafa" />
<rect x="514.60" y="94.10" width="49.90" height="2.50" fill="#fefbfb" />
<rect x="563.50" y="94.10" width="48.90" height="2.50" fill="#f6c6c6" />
<rect x="416.80" y="95.60" width="49.90" height="2.00" fill="#f8f8fb" />
<rect x="465.70" y="95.60" width="49.90" height="2.00" fill="#fdf1f1" />
<rect x="514.60" y="95.60" width="49.90" height="2.00" fill="#fbe6e6" />
<rect x="563.50" y="95.60" width="48.90" height="2.00" fill="#f7c8c8" />
<rect x="416.80" y="96.60" width="49.90" height="2.00" fill="#e8e7f3" />
<rect x="465.70" y="96.60" width="49.90" height="2.00" fill="#fafafc" />
<rect x="514.60" y="96.60" width="49.90" height="2.00" fill="#f8cfcf" />
<rect x="563.50" y="96.60" width="48.90" height="2.00" fill="#f7caca" />
<rect x="416.80" y="97.60" width="49.90" height="2.00" fill="#f4f3f9" />
<rect x="465.70" y="97.60" width="49.90" height="2.00" fill="#edecf5" />
<rect x="514.60" y="97.60" width="49.90" height="2.00" fill="#f4b3b3" />
<rect x="563.50" y="97.60" width="48.90" height="2.00" fill="#f7cccc" />
<rect x="416.80" y="98.60" width="49.90" height="2.00" fill="#e5e3f1" />
<rect x="465.70" y="98.60" width="49.90" height="2.00" fill="#f4f3f9" />
<rect x="514.60" y="98.60" width="49.90" height="2.00" fill="#f6c2c2" />
<rect x="563.50" y="98.60" width="48.90" height="2.00" fill="#f7cdcd" />
<rect x="416.80" y="99.60" width="49.90" height="2.00" fill="#eeecf6" />
<rect x="465.70" y="99.60" width="49.90" height="2.00" fill="#fcfcfe" />
<rect x="514.60" y="99.60" width="49.90" height="2.00" fill="#fadfdf" />
<rect x="563.50" y="99.60" width="48.90" height="2.00" fill="#f8cfcf" />
<rect x="416.80" y="100.60" width="49.90" height="2.00" fill="#f0eef7" />
<rect x="465.70" y="100.60" width="49.90" height="2.00" fill="#fdf0f0" />
<rect x="514.60" y="100.60" width="49.90" height="2.00" fill="#d1cee6" />
<rect x="563.50" y="100.60" width="48.90" height="2.00" fill="#f8d0d0" />
<rect x="416.80" y="101.60" width="49.90" height="2.00" fill="#fcecec" />
<rect x="465.70" y="101.60" width="49.90" height="2.00" fill="#dfddee" />
<rect x="514.60" y="101.60" width="49.90" height="2.00" fill="#f9d9d9" />
<rect x="563.50" y="101.60" width="48.90" height="2.00" fill="#f8d2d2" />
<rect x="416.80" y="102.60" width="49.90" height="2.00" fill="#e7e6f2" />
<rect x="465.70" y="102.60" width="49.90" height="2.00" fill="#f5f4f9" />
<rect x="514.60" y="102.60" width="49.90" height="2.00" fill="#fadfdf" />
<rect x="563.50" y="102.60" width="48.90" height="2.00" fill="#f8d3d3" />
<rect x="416.80" y="103.60" width="49.90" height="2.20" fill="#f0eff7" />
<rect x="465.70" y="103.60" width="49.90" height="2.20" fill="#f5f4f9" />
<rect x="514.60" y="103.60" width="49.90" height="2.20" fill="#f7c8c8" />
<rect x="563.50" y="103.60" width="48.90" height="2.20" fill="#f9d5d5" />
<rect x="416.80" y="104.80" width="49.90" height="2.20" fill="#fceeee" />
<rect x="465.70" y="104.80" width="49.90" height="2.20" fill="#e7e5f2" />
<rect x="514.60" y="104.80" width="49.90" height="2.20" fill="#f9d4d4" />
<rect x="563.50" y="104.80" width="48.90" height="2.20" fill="#f9d7d7" />
<rect x="416.80" y="106.00" width="49.90" height="2.00" fill="#efeef6" />
<rect x="465.70" y="106.00" width="49.90" height="2.00" fill="#fbe6e6" />
<rect x="514.60" y="106.00" width="49.90" height="2.00" fill="#d1cee6" />
<rect x="563.50" y="106.00" width="48.90" height="2.00" fill="#f9d9d9" />
<rect x="416.80" y="107.00" width="49.90" height="2.50" fill="#fbe7e7" />
<rect x="465.70" y="107.00" width="49.90" height="2.50" fill="#f1f0f8" />
<rect x="514.60" y="107.00" width="49.90" height="2.50" fill="#f7cbcb" />
<rect x="563.50" y="107.00" width="48.90" height="2.50" fill="#f9dada" />
<rect x="416.80" y="108.50" width="49.90" height="3.00" fill="#e0deee" />
<rect x="465.70" y="108.50" width="49.90" height="3.00" fill="#edecf5" />
<rect x="514.60" y="108.50" width="49.90" height="3.00" fill="#f7caca" />
<rect x="563.50" y="108.50" width="48.90" height="3.00" fill="#fadcdc" />
<rect x="416.80" y="110.50" width="49.90" height="3.00" fill="#eae9f4" />
<rect x="465.70" y="110.50" width="49.90" height="3.00" fill="#efeef6" />
<rect x="514.60" y="110.50" width="49.90" height="3.00" fill="#fffdfd" />
<rect x="563.50" y="110.50" width="48.90" height="3.00" fill="#fadede" />
<rect x="416.80" y="112.50" width="49.90" height="2.00" fill="#eeedf6" />
<rect x="465.70" y="112.50" width="49.90" height="2.00" fill="#f7f6fb" />
<rect x="514.60" y="112.50" width="49.90" height="2.00" fill="#fbe5e5" />
<rect x="563.50" y="112.50" width="48.90" height="2.00" fill="#fae1e1" />
<rect x="416.80" y="113.50" width="49.90" height="2.00" fill="#e0ddee" />
<rect x="465.70" y="113.50" width="49.90" height="2.00" fill="#ffffff" />
<rect x="514.60" y="113.50" width="49.90" height="2.00" fill="#f9d5d5" />
<rect x="563.50" y="113.50" width="48.90" height="2.00" fill="#fbe2e2" />
<rect x="416.80" y="114.50" width="49.90" height="3.00" fill="#fcebeb" />
<rect x="465.70" y="114.50" width="49.90" height="3.00" fill="#fadfdf" />
<rect x="514.60" y="114.50" width="49.90" height="3.00" fill="#f8d4d4" />
<rect x="563.50" y="114.50" width="48.90" height="3.00" fill="#fbe3e3" />
<rect x="416.80" y="116.50" width="49.90" height="2.00" fill="#f9f9fc" />
<rect x="465.70" y="116.50" width="49.90" height="2.00" fill="#f1f0f8" />
<rect x="514.60" y="116.50" width="49.90" height="2.00" fill="#fdf1f1" />
<rect x="563.50" y="116.50" width="48.90" height="2.00" fill="#fbe6e6" />
<rect x="416.80" y="117.50" width="49.90" height="2.50" fill="#faf9fc" />
<rect x="465.70" y="117.50" width="49.90" height="2.50" fill="#fffefe" />
<rect x="514.60" y="117.50" width="49.90" height="2.50" fill="#fdf2f2" />
<rect x="563.50" y="117.50" width="48.90" height="2.50" fill="#fbe7e7" />
<rect x="416.80" y="119.00" width="49.90" height="2.20" fill="#fceded" />
<rect x="465.70" y="119.00" width="49.90" height="2.20" fill="#fdf0f0" />
<rect x="514.60" y="119.00" width="49.90" height="2.20" fill="#fffcfc" />
<rect x="563.50" y="119.00" width="48.90" height="2.20" fill="#fce9e9" />
<rect x="416.80" y="120.20" width="49.90" height="2.00" fill="#fbe5e5" />
<rect x="465.70" y="120.20" width="49.90" height="2.00" fill="#e4e3f1" />
<rect x="514.60" y="120.20" width="49.90" height="2.00" fill="#edecf5" />
<rect x="563.50" y="120.20" width="48.90" height="2.00" fill="#fceaea" />
<rect x="416.80" y="121.20" width="49.90" height="2.20" fill="#f3f2f9" />
<rect x="465.70" y="121.20" width="49.90" height="2.20" fill="#f5f4f9" />
<rect x="514.60" y="121.20" width="49.90" height="2.20" fill="#e4e2f0" />
<rect x="563.50" y="121.20" width="48.90" height="2.20" fill="#fcebeb" />
<rect x="416.80" y="122.40" width="49.90" height="2.50" fill="#e2e0ef" />
<rect x="465.70" y="122.40" width="49.90" height="2.50" fill="#fafafd" />
<rect x="514.60" y="122.40" width="49.90" height="2.50" fill="#f4f3f9" />
<rect x="563.50" y="122.40" width="48.90" height="2.50" fill="#fceded" />
<rect x="416.80" y="123.90" width="49.90" height="2.00" fill="#fcebeb" />
<rect x="465.70" y="123.90" width="49.90" height="2.00" fill="#efeef6" />
<rect x="514.60" y="123.90" width="49.90" height="2.00" fill="#eceaf5" />
<rect x="563.50" y="123.90" width="48.90" height="2.00" fill="#fceeee" />
<rect x="416.80" y="124.90" width="49.90" height="2.00" fill="#fefbfb" />
<rect x="465.70" y="124.90" width="49.90" height="2.00" fill="#fdf4f4" />
<rect x="514.60" y="124.90" width="49.90" height="2.00" fill="#d1cee6" />
<rect x="563.50" y="124.90" width="48.90" height="2.00" fill="#fdf0f0" />
<rect x="416.80" y="125.90" width="49.90" height="1.40" fill="#e6e4f1" />
<rect x="465.70" y="125.90" width="49.90" height="1.40" fill="#fffefe" />
<rect x="514.60" y="125.90" width="49.90" height="1.40" fill="#fef6f6" />
<rect x="563.50" y="125.90" width="48.90" height="1.40" fill="#fdf1f1" />
<rect x="416.80" y="126.30" width="49.90" height="2.00" fill="#fbe7e7" />
<rect x="465.70" y="126.30" width="49.90" height="2.00" fill="#fefcfc" />
<rect x="514.60" y="126.30" width="49.90" height="2.00" fill="#fbe5e5" />
<rect x="563.50" y="126.30" width="48.90" height="2.00" fill="#ffffff" />
<rect x="416.80" y="127.30" width="49.90" height="2.20" fill="#fbe1e1" />
<rect x="465.70" y="127.30" width="49.90" height="2.20" fill="#f8d3d3" />
<rect x="514.60" y="127.30" width="49.90" height="2.20" fill="#fef8f8" />
<rect x="563.50" y="127.30" width="48.90" height="2.20" fill="#ffffff" />
<rect x="416.80" y="128.50" width="49.90" height="2.20" fill="#fdefef" />
<rect x="465.70" y="128.50" width="49.90" height="2.20" fill="#f7cccc" />
<rect x="514.60" y="128.50" width="49.90" height="2.20" fill="#fbfafd" />
<rect x="563.50" y="128.50" width="48.90" height="2.20" fill="#ffffff" />
<rect x="416.80" y="129.70" width="49.90" height="2.50" fill="#fffdfd" />
<rect x="465.70" y="129.70" width="49.90" height="2.50" fill="#f8d3d3" />
<rect x="514.60" y="129.70" width="49.90" height="2.50" fill="#fcecec" />
<rect x="563.50" y="129.70" width="48.90" height="2.50" fill="#ffffff" />
<rect x="416.80" y="131.20" width="49.90" height="2.50" fill="#fdf0f0" />
<rect x="465.70" y="131.20" width="49.90" height="2.50" fill="#f8d1d1" />
<rect x="514.60" y="131.20" width="49.90" height="2.50" fill="#fdf3f3" />
<rect x="563.50" y="131.20" width="48.90" height="2.50" fill="#ffffff" />
<rect x="416.80" y="132.70" width="49.90" height="2.00" fill="#fbe8e8" />
<rect x="465.70" y="132.70" width="49.90" height="2.00" fill="#f7caca" />
<rect x="514.60" y="132.70" width="49.90" height="2.00" fill="#fffcfc" />
<rect x="563.50" y="132.70" width="48.90" height="2.00" fill="#ffffff" />
<rect x="416.80" y="133.70" width="49.90" height="2.50" fill="#fadddd" />
<rect x="465.70" y="133.70" width="49.90" height="2.50" fill="#fbe4e4" />
<rect x="514.60" y="133.70" width="49.90" height="2.50" fill="#f8d0d0" />
<rect x="563.50" y="133.70" width="48.90" height="2.50" fill="#ffffff" />
<rect x="416.80" y="135.20" width="49.90" height="3.00" fill="#fdf1f1" />
<rect x="465.70" y="135.20" width="49.90" height="3.00" fill="#fdf2f2" />
<rect x="514.60" y="135.20" width="49.90" height="3.00" fill="#fefafa" />
<rect x="563.50" y="135.20" width="48.90" height="3.00" fill="#ffffff" />
<rect x="416.80" y="137.20" width="49.90" height="3.00" fill="#fae0e0" />
<rect x="465.70" y="137.20" width="49.90" height="3.00" fill="#fbe3e3" />
<rect x="514.60" y="137.20" width="49.90" height="3.00" fill="#fbe4e4" />
<rect x="563.50" y="137.20" width="48.90" height="3.00" fill="#ffffff" />
<rect x="416.80" y="139.20" width="49.90" height="2.20" fill="#ffffff" />
<rect x="465.70" y="139.20" width="49.90" height="2.20" fill="#fdf4f4" />
<rect x="514.60" y="139.20" width="49.90" height="2.20" fill="#fceeee" />
<rect x="563.50" y="139.20" width="48.90" height="2.20" fill="#ffffff" />
<rect x="416.80" y="140.40" width="49.90" height="2.00" fill="#fceaea" />
<rect x="465.70" y="140.40" width="49.90" height="2.00" fill="#f9d4d4" />
<rect x="514.60" y="140.40" width="49.90" height="2.00" fill="#fcecec" />
<rect x="563.50" y="140.40" width="48.90" height="2.00" fill="#ffffff" />
<rect x="416.80" y="141.40" width="49.90" height="2.20" fill="#fceaea" />
<rect x="465.70" y="141.40" width="49.90" height="2.20" fill="#f9d9d9" />
<rect x="514.60" y="141.40" width="49.90" height="2.20" fill="#fbe4e4" />
<rect x="563.50" y="141.40" width="48.90" height="2.20" fill="#ffffff" />
<rect x="416.80" y="142.60" width="49.90" height="2.20" fill="#fceaea" />
<rect x="465.70" y="142.60" width="49.90" height="2.20" fill="#f9d8d8" />
<rect x="514.60" y="142.60" width="49.90" height="2.20" fill="#fadede" />
<rect x="563.50" y="142.60" width="48.90" height="2.20" fill="#ffffff" />
<rect x="416.80" y="143.80" width="49.90" height="2.20" fill="#fadddd" />
<rect x="465.70" y="143.80" width="49.90" height="2.20" fill="#fbe4e4" />
<rect x="514.60" y="143.80" width="49.90" height="2.20" fill="#fdf3f3" />
<rect x="563.50" y="143.80" width="48.90" height="2.20" fill="#ffffff" />
<rect x="416.80" y="145.00" width="49.90" height="2.50" fill="#fbe2e2" />
<rect x="465.70" y="145.00" width="49.90" height="2.50" fill="#fbe6e6" />
<rect x="514.60" y="145.00" width="49.90" height="2.50" fill="#f8d1d1" />
<rect x="563.50" y="145.00" width="48.90" height="2.50" fill="#ffffff" />
<rect x="416.80" y="146.50" width="49.90" height="3.00" fill="#fbe3e3" />
<rect x="465.70" y="146.50" width="49.90" height="3.00" fill="#fbe2e2" />
<rect x="514.60" y="146.50" width="49.90" height="3.00" fill="#fdf4f4" />
<rect x="563.50" y="146.50" width="48.90" height="3.00" fill="#ffffff" />
<rect x="416.80" y="148.50" width="49.90" height="2.20" fill="#fceaea" />
<rect x="465.70" y="148.50" width="49.90" height="2.20" fill="#fae0e0" />
<rect x="514.60" y="148.50" width="49.90" height="2.20" fill="#fdf0f0" />
<rect x="563.50" y="148.50" width="48.90" height="2.20" fill="#ffffff" />
<rect x="416.80" y="149.70" width="49.90" height="2.00" fill="#fadddd" />
<rect x="465.70" y="149.70" width="49.90" height="2.00" fill="#fdefef" />
<rect x="514.60" y="149.70" width="49.90" height="2.00" fill="#fefbfb" />
<rect x="563.50" y="149.70" width="48.90" height="2.00" fill="#ffffff" />
<rect x="416.80" y="150.70" width="49.90" height="2.50" fill="#fce9e9" />
<rect x="465.70" y="150.70" width="49.90" height="2.50" fill="#f7cbcb" />
<rect x="514.60" y="150.70" width="49.90" height="2.50" fill="#fadddd" />
<rect x="563.50" y="150.70" width="48.90" height="2.50" fill="#ffffff" />
<rect x="416.80" y="152.20" width="49.90" height="2.50" fill="#fcecec" />
<rect x="465.70" y="152.20" width="49.90" height="2.50" fill="#fdefef" />
<rect x="514.60" y="152.20" width="49.90" height="2.50" fill="#f8d2d2" />
<rect x="563.50" y="152.20" width="48.90" height="2.50" fill="#ffffff" />
<rect x="416.80" y="153.70" width="49.90" height="3.00" fill="#fbe7e7" />
<rect x="465.70" y="153.70" width="49.90" height="3.00" fill="#fce8e8" />
<rect x="514.60" y="153.70" width="49.90" height="3.00" fill="#fadbdb" />
<rect x="563.50" y="153.70" width="48.90" height="3.00" fill="#ffffff" />
<rect x="416.80" y="155.70" width="49.90" height="2.00" fill="#fceded" />
<rect x="465.70" y="155.70" width="49.90" height="2.00" fill="#f9d9d9" />
<rect x="514.60" y="155.70" width="49.90" height="2.00" fill="#fadede" />
<rect x="563.50" y="155.70" width="48.90" height="2.00" fill="#ffffff" />
<rect x="416.80" y="156.70" width="49.90" height="2.00" fill="#fceaea" />
<rect x="465.70" y="156.70" width="49.90" height="2.00" fill="#f9d9d9" />
<rect x="514.60" y="156.70" width="49.90" height="2.00" fill="#fdf2f2" />
<rect x="563.50" y="156.70" width="48.90" height="2.00" fill="#ffffff" />
<rect x="416.80" y="157.70" width="49.90" height="2.20" fill="#fceaea" />
<rect x="465.70" y="157.70" width="49.90" height="2.20" fill="#fbe7e7" />
<rect x="514.60" y="157.70" width="49.90" height="2.20" fill="#fdf5f5" />
<rect x="563.50" y="157.70" width="48.90" height="2.20" fill="#ffffff" />
<rect x="416.80" y="158.90" width="49.90" height="2.00" fill="#fceaea" />
<rect x="465.70" y="158.90" width="49.90" height="2.00" fill="#f9dada" />
<rect x="514.60" y="158.90" width="49.90" height="2.00" fill="#fcecec" />
<rect x="563.50" y="158.90" width="48.90" height="2.00" fill="#ffffff" />
<rect x="416.80" y="159.90" width="49.90" height="3.00" fill="#fdefef" />
<rect x="465.70" y="159.90" width="49.90" height="3.00" fill="#fceded" />
<rect x="514.60" y="159.90" width="49.90" height="3.00" fill="#fef5f5" />
<rect x="563.50" y="159.90" width="48.90" height="3.00" fill="#ffffff" />
<rect x="416.80" y="161.90" width="49.90" height="2.20" fill="#fef8f8" />
<rect x="465.70" y="161.90" width="49.90" height="2.20" fill="#f7cccc" />
<rect x="514.60" y="161.90" width="49.90" height="2.20" fill="#fef6f6" />
<rect x="563.50" y="161.90" width="48.90" height="2.20" fill="#ffffff" />
<rect x="416.80" y="163.10" width="49.90" height="2.50" fill="#fdefef" />
<rect x="465.70" y="163.10" width="49.90" height="2.50" fill="#fbe4e4" />
<rect x="514.60" y="163.10" width="49.90" height="2.50" fill="#fdefef" />
<rect x="563.50" y="163.10" width="48.90" height="2.50" fill="#ffffff" />
<rect x="416.80" y="164.60" width="49.90" height="2.00" fill="#fce9e9" />
<rect x="465.70" y="164.60" width="49.90" height="2.00" fill="#f8cfcf" />
<rect x="514.60" y="164.60" width="49.90" height="2.00" fill="#fcecec" />
<rect x="563.50" y="164.60" width="48.90" height="2.00" fill="#ffffff" />
<rect x="416.80" y="165.60" width="49.90" height="2.50" fill="#fcebeb" />
<rect x="465.70" y="165.60" width="49.90" height="2.50" fill="#fbe4e4" />
<rect x="514.60" y="165.60" width="49.90" height="2.50" fill="#eeedf6" />
<rect x="563.50" y="165.60" width="48.90" height="2.50" fill="#ffffff" />
<rect x="416.80" y="167.10" width="49.90" height="2.50" fill="#fce9e9" />
<rect x="465.70" y="167.10" width="49.90" height="2.50" fill="#fcecec" />
<rect x="514.60" y="167.10" width="49.90" height="2.50" fill="#e8e6f2" />
<rect x="563.50" y="167.10" width="48.90" height="2.50" fill="#ffffff" />
<rect x="416.80" y="168.60" width="49.90" height="2.20" fill="#fceded" />
<rect x="465.70" y="168.60" width="49.90" height="2.20" fill="#f8cfcf" />
<rect x="514.60" y="168.60" width="49.90" height="2.20" fill="#e5e4f1" />
<rect x="563.50" y="168.60" width="48.90" height="2.20" fill="#ffffff" />
<rect x="416.80" y="169.80" width="49.90" height="1.60" fill="#fbe7e7" />
<rect x="465.70" y="169.80" width="49.90" height="1.60" fill="#fadbdb" />
<rect x="514.60" y="169.80" width="49.90" height="1.60" fill="#efeef6" />
<rect x="563.50" y="169.80" width="48.90" height="1.60" fill="#ffffff" />
<rect x="416.80" y="170.40" width="49.90" height="2.50" fill="#edebf5" />
<rect x="465.70" y="170.40" width="49.90" height="2.50" fill="#e6e4f1" />
<rect x="514.60" y="170.40" width="49.90" height="2.50" fill="#d2cfe7" />
<rect x="563.50" y="170.40" width="48.90" height="2.50" fill="#e5e3f1" />
<rect x="416.80" y="171.90" width="49.90" height="2.00" fill="#e3e1f0" />
<rect x="465.70" y="171.90" width="49.90" height="2.00" fill="#fdf1f1" />
<rect x="514.60" y="171.90" width="49.90" height="2.00" fill="#c4c0df" />
<rect x="563.50" y="171.90" width="48.90" height="2.00" fill="#d2cfe7" />
<rect x="416.80" y="172.90" width="49.90" height="2.50" fill="#eae8f3" />
<rect x="465.70" y="172.90" width="49.90" height="2.50" fill="#eeedf6" />
<rect x="514.60" y="172.90" width="49.90" height="2.50" fill="#d1cde6" />
<rect x="563.50" y="172.90" width="48.90" height="2.50" fill="#c6c2e0" />
<rect x="416.80" y="174.40" width="49.90" height="2.00" fill="#dfdced" />
<rect x="465.70" y="174.40" width="49.90" height="2.00" fill="#f1f0f7" />
<rect x="514.60" y="174.40" width="49.90" height="2.00" fill="#dad8eb" />
<rect x="563.50" y="174.40" width="48.90" height="2.00" fill="#c5c1e0" />
<rect x="416.80" y="175.40" width="49.90" height="3.00" fill="#e7e5f2" />
<rect x="465.70" y="175.40" width="49.90" height="3.00" fill="#f0eff7" />
<rect x="514.60" y="175.40" width="49.90" height="3.00" fill="#dbd8eb" />
<rect x="563.50" y="175.40" width="48.90" height="3.00" fill="#c5c1df" />
<rect x="416.80" y="177.40" width="49.90" height="2.00" fill="#e9e7f3" />
<rect x="465.70" y="177.40" width="49.90" height="2.00" fill="#ebe9f4" />
<rect x="514.60" y="177.40" width="49.90" height="2.00" fill="#d6d3e9" />
<rect x="563.50" y="177.40" width="48.90" height="2.00" fill="#c4c1df" />
<rect x="416.80" y="178.40" width="49.90" height="2.50" fill="#eae9f4" />
<rect x="465.70" y="178.40" width="49.90" height="2.50" fill="#e8e6f2" />
<rect x="514.60" y="178.40" width="49.90" height="2.50" fill="#d7d5e9" />
<rect x="563.50" y="178.40" width="48.90" height="2.50" fill="#c4c0df" />
<rect x="416.80" y="179.90" width="49.90" height="2.00" fill="#e9e7f3" />
<rect x="465.70" y="179.90" width="49.90" height="2.00" fill="#fdf1f1" />
<rect x="514.60" y="179.90" width="49.90" height="2.00" fill="#c7c3e1" />
<rect x="563.50" y="179.90" width="48.90" height="2.00" fill="#c4c0df" />
<rect x="416.80" y="180.90" width="49.90" height="2.00" fill="#fdf1f1" />
<rect x="465.70" y="180.90" width="49.90" height="2.00" fill="#e8e7f3" />
<rect x="514.60" y="180.90" width="49.90" height="2.00" fill="#bebbdc" />
<rect x="563.50" y="180.90" width="48.90" height="2.00" fill="#c4c0df" />
<rect x="416.80" y="181.90" width="49.90" height="2.00" fill="#e4e3f1" />
<rect x="465.70" y="181.90" width="49.90" height="2.00" fill="#ecebf5" />
<rect x="514.60" y="181.90" width="49.90" height="2.00" fill="#d5d2e8" />
<rect x="563.50" y="181.90" width="48.90" height="2.00" fill="#c3c0df" />
<rect x="416.80" y="182.90" width="49.90" height="2.50" fill="#e3e1f0" />
<rect x="465.70" y="182.90" width="49.90" height="2.50" fill="#fdf1f1" />
<rect x="514.60" y="182.90" width="49.90" height="2.50" fill="#c8c5e1" />
<rect x="563.50" y="182.90" width="48.90" height="2.50" fill="#c3bfdf" />
<rect x="416.80" y="184.40" width="49.90" height="2.20" fill="#e6e4f2" />
<rect x="465.70" y="184.40" width="49.90" height="2.20" fill="#f8f7fb" />
<rect x="514.60" y="184.40" width="49.90" height="2.20" fill="#d1cde6" />
<rect x="563.50" y="184.40" width="48.90" height="2.20" fill="#c3bfdf" />
<rect x="416.80" y="185.60" width="49.90" height="2.50" fill="#fdf1f1" />
<rect x="465.70" y="185.60" width="49.90" height="2.50" fill="#eeedf6" />
<rect x="514.60" y="185.60" width="49.90" height="2.50" fill="#e4e2f0" />
<rect x="563.50" y="185.60" width="48.90" height="2.50" fill="#c3bfde" />
<rect x="416.80" y="187.10" width="49.90" height="2.20" fill="#f3f2f8" />
<rect x="465.70" y="187.10" width="49.90" height="2.20" fill="#fdf1f1" />
<rect x="514.60" y="187.10" width="49.90" height="2.20" fill="#c5c1e0" />
<rect x="563.50" y="187.10" width="48.90" height="2.20" fill="#c2bfde" />
<rect x="416.80" y="188.30" width="49.90" height="2.50" fill="#dfddee" />
<rect x="465.70" y="188.30" width="49.90" height="2.50" fill="#fdf1f1" />
<rect x="514.60" y="188.30" width="49.90" height="2.50" fill="#e0deee" />
<rect x="563.50" y="188.30" width="48.90" height="2.50" fill="#c2bede" />
<rect x="416.80" y="189.80" width="49.90" height="2.20" fill="#fdf1f1" />
<rect x="465.70" y="189.80" width="49.90" height="2.20" fill="#efeef6" />
<rect x="514.60" y="189.80" width="49.90" height="2.20" fill="#d6d3e9" />
<rect x="563.50" y="189.80" width="48.90" height="2.20" fill="#9293c8" />
<rect x="416.80" y="191.00" width="49.90" height="2.50" fill="#fdf1f1" />
<rect x="465.70" y="191.00" width="49.90" height="2.50" fill="#eeedf6" />
<rect x="514.60" y="191.00" width="49.90" height="2.50" fill="#d2cfe6" />
<rect x="563.50" y="191.00" width="48.90" height="2.50" fill="#8c8ec5" />
<rect x="416.80" y="192.50" width="49.90" height="2.00" fill="#fdf1f1" />
<rect x="465.70" y="192.50" width="49.90" height="2.00" fill="#f8f7fb" />
<rect x="514.60" y="192.50" width="49.90" height="2.00" fill="#c8c5e1" />
<rect x="563.50" y="192.50" width="48.90" height="2.00" fill="#888ac3" />
<rect x="416.80" y="193.50" width="49.90" height="2.50" fill="#e5e4f1" />
<rect x="465.70" y="193.50" width="49.90" height="2.50" fill="#fdf1f1" />
<rect x="514.60" y="193.50" width="49.90" height="2.50" fill="#c5c1df" />
<rect x="563.50" y="193.50" width="48.90" height="2.50" fill="#8688c2" />
<rect x="416.80" y="195.00" width="49.90" height="0.70" fill="#e7e5f2" />
<rect x="465.70" y="195.00" width="49.90" height="0.70" fill="#efeef6" />
<rect x="514.60" y="195.00" width="49.90" height="0.70" fill="#bbb8db" />
<rect x="563.50" y="195.00" width="48.90" height="0.70" fill="#8285c1" />
<rect x="416.80" y="46.80" width="195.60" height="148.90" fill="none" stroke="#0a0a0a" stroke-width="1.3"/>
<rect x="416.80" y="126.3" width="195.60" height="44.1" fill="none" stroke="#7244a6" stroke-width="1"/>
<line x1="624.20" y1="49.00" x2="624.20" y2="125.00" stroke="#111" stroke-width="2.0" />
<line x1="624.20" y1="129.40" x2="624.20" y2="167.00" stroke="#111" stroke-width="2.0" />
<line x1="624.20" y1="169.50" x2="624.20" y2="197.00" stroke="#111" stroke-width="2.0" />
<text x="629.00" y="84.80" font-size="10.2" text-anchor="start" fill="#231f20" >Late-stage</text>
<text x="629.00" y="96.80" font-size="10.2" text-anchor="start" fill="#231f20" >increased</text>
<text x="629.00" y="146.00" font-size="10.2" text-anchor="start" fill="#231f20" >Early-stage</text>
<text x="629.00" y="158.00" font-size="10.2" text-anchor="start" fill="#231f20" >increased</text>
<text x="629.00" y="181.40" font-size="10.2" text-anchor="start" fill="#231f20" >Late-stage</text>
<text x="629.00" y="193.20" font-size="10.2" text-anchor="start" fill="#231f20" >decreased</text>
<text x="440.00" y="208.60" font-size="10.2" text-anchor="middle" fill="#231f20" >0</text>
<text x="489.60" y="208.60" font-size="10.2" text-anchor="middle" fill="#231f20" >1</text>
<text x="539.00" y="208.60" font-size="10.2" text-anchor="middle" fill="#231f20" >8</text>
<text x="588.20" y="208.60" font-size="10.2" text-anchor="middle" fill="#231f20" >24</text>
<line x1="419.00" y1="214.60" x2="612.40" y2="214.60" stroke="#111" stroke-width="1.6" />
<text x="515.40" y="227.30" font-size="10.2" text-anchor="middle" fill="#231f20" >Hours of aggregation</text>
<text x="73.2" y="272.4" font-size="10.2" fill="#231f20">Interactors <tspan font-style="italic">decreasing</tspan> in abundance</text>
<text x="14.00" y="283.90" font-size="10" fill="#231f20">log2(<tspan font-style="italic" dx="0.3">t</tspan><tspan font-style="italic" font-size="7.6" dy="2.6">x</tspan><tspan dy="-2.6" dx="0.5">/</tspan><tspan font-style="italic" dx="0.3">t</tspan><tspan font-size="7.6" dy="2.6">0</tspan><tspan dy="-2.6" dx="0.5">)</tspan></text>
<rect x="57.10" y="293.40" width="49.35" height="10.70" fill="#c8a67e" />
<rect x="105.45" y="293.40" width="49.35" height="10.70" fill="#93632a" />
<rect x="153.80" y="293.40" width="49.35" height="10.70" fill="#d8c4a8" />
<rect x="202.15" y="293.40" width="48.35" height="10.70" fill="#e3d7c7" />
<rect x="57.10" y="303.10" width="49.35" height="10.70" fill="#a97b45" />
<rect x="105.45" y="303.10" width="49.35" height="10.70" fill="#a07a3c" />
<rect x="153.80" y="303.10" width="49.35" height="10.70" fill="#e3d7c7" />
<rect x="202.15" y="303.10" width="48.35" height="10.70" fill="#e3d7c7" />
<rect x="57.10" y="312.80" width="49.35" height="9.70" fill="#c8a67e" />
<rect x="105.45" y="312.80" width="49.35" height="9.70" fill="#9a6c32" />
<rect x="153.80" y="312.80" width="49.35" height="9.70" fill="#d8c4a8" />
<rect x="202.15" y="312.80" width="48.35" height="9.70" fill="#ffffff" />
<rect x="57.10" y="293.40" width="193.40" height="29.10" fill="none" stroke="#0a0a0a" stroke-width="1.3"/>
<defs><linearGradient id="g1" x1="0" y1="0" x2="0" y2="1"><stop offset="0" stop-color="#a4742f"/><stop offset="0.5" stop-color="#c9aa84"/><stop offset="1" stop-color="#ffffff"/></linearGradient></defs>
<rect x="27.40" y="294.60" width="14.30" height="28.70" fill="url(#g1)" />
<line x1="27.40" y1="307.40" x2="30.40" y2="307.40" stroke="#111" stroke-width="1.5" />
<line x1="38.70" y1="307.40" x2="41.70" y2="307.40" stroke="#111" stroke-width="1.5" />
<line x1="27.40" y1="321.00" x2="30.40" y2="321.00" stroke="#111" stroke-width="1.5" />
<line x1="38.70" y1="321.00" x2="41.70" y2="321.00" stroke="#111" stroke-width="1.5" />
<rect x="27.40" y="294.60" width="14.30" height="28.70" fill="none" stroke="#111" stroke-width="1.25"/>
<text x="23.00" y="299.10" font-size="10" text-anchor="end" fill="#231f20" >1</text>
<text x="23.00" y="311.00" font-size="10" text-anchor="end" fill="#231f20" >0</text>
<text x="23.00" y="324.10" font-size="10" text-anchor="end" fill="#231f20" >−1</text>
<text x="255.50" y="299.55" font-size="8.8" text-anchor="start" fill="#231f20" >Copa</text>
<text x="255.50" y="309.45" font-size="8.8" text-anchor="start" fill="#231f20" >Cope</text>
<text x="255.50" y="319.35" font-size="8.8" text-anchor="start" fill="#231f20" >Copb2</text>
<rect x="102.90" y="288.25" width="3.20" height="2.70" fill="#6a2e9e" />
<rect x="102.90" y="323.85" width="3.20" height="2.70" fill="#6a2e9e" />
<rect x="111.05" y="288.25" width="3.20" height="2.70" fill="#6a2e9e" />
<rect x="111.05" y="323.85" width="3.20" height="2.70" fill="#6a2e9e" />
<rect x="119.20" y="288.25" width="3.20" height="2.70" fill="#6a2e9e" />
<rect x="119.20" y="323.85" width="3.20" height="2.70" fill="#6a2e9e" />
<rect x="127.35" y="288.25" width="3.20" height="2.70" fill="#6a2e9e" />
<rect x="127.35" y="323.85" width="3.20" height="2.70" fill="#6a2e9e" />
<rect x="135.50" y="288.25" width="3.20" height="2.70" fill="#6a2e9e" />
<rect x="135.50" y="323.85" width="3.20" height="2.70" fill="#6a2e9e" />
<rect x="143.65" y="288.25" width="3.20" height="2.70" fill="#6a2e9e" />
<rect x="143.65" y="323.85" width="3.20" height="2.70" fill="#6a2e9e" />
<rect x="151.80" y="288.25" width="3.20" height="2.70" fill="#6a2e9e" />
<rect x="151.80" y="323.85" width="3.20" height="2.70" fill="#6a2e9e" />
<rect x="103.15" y="295.12" width="2.70" height="3.20" fill="#6a2e9e" />
<rect x="152.05" y="295.12" width="2.70" height="3.20" fill="#6a2e9e" />
<rect x="103.15" y="302.24" width="2.70" height="3.20" fill="#6a2e9e" />
<rect x="152.05" y="302.24" width="2.70" height="3.20" fill="#6a2e9e" />
<rect x="103.15" y="309.36" width="2.70" height="3.20" fill="#6a2e9e" />
<rect x="152.05" y="309.36" width="2.70" height="3.20" fill="#6a2e9e" />
<rect x="103.15" y="316.48" width="2.70" height="3.20" fill="#6a2e9e" />
<rect x="152.05" y="316.48" width="2.70" height="3.20" fill="#6a2e9e" />
<line x1="315.30" y1="293.50" x2="315.30" y2="323.60" stroke="#111" stroke-width="2.0" />
<text x="0" y="0" font-size="10.2" text-anchor="middle" fill="#95704c" transform="translate(321.90,308.70) rotate(90)">COPI</text>
<rect x="56.35" y="334.50" width="49.51" height="10.87" fill="#ebdc2c" />
<rect x="104.86" y="334.50" width="49.51" height="10.87" fill="#ecde1e" />
<rect x="153.38" y="334.50" width="49.51" height="10.87" fill="#ecde30" />
<rect x="201.89" y="334.50" width="48.51" height="10.87" fill="#ece040" />
<rect x="56.35" y="344.37" width="49.51" height="10.87" fill="#ece040" />
<rect x="104.86" y="344.37" width="49.51" height="10.87" fill="#ece040" />
<rect x="153.38" y="344.37" width="49.51" height="10.87" fill="#eee45a" />
<rect x="201.89" y="344.37" width="48.51" height="10.87" fill="#eee45a" />
<rect x="56.35" y="354.24" width="49.51" height="10.87" fill="#ece040" />
<rect x="104.86" y="354.24" width="49.51" height="10.87" fill="#ece040" />
<rect x="153.38" y="354.24" width="49.51" height="10.87" fill="#f3ec88" />
<rect x="201.89" y="354.24" width="48.51" height="10.87" fill="#f3ec80" />
<rect x="56.35" y="364.11" width="49.51" height="10.87" fill="#ebdc20" />
<rect x="104.86" y="364.11" width="49.51" height="10.87" fill="#efe460" />
<rect x="153.38" y="364.11" width="49.51" height="10.87" fill="#f2ea80" />
<rect x="201.89" y="364.11" width="48.51" height="10.87" fill="#f7f2b8" />
<rect x="56.35" y="373.99" width="49.51" height="10.87" fill="#ecdf3a" />
<rect x="104.86" y="373.99" width="49.51" height="10.87" fill="#ebdc20" />
<rect x="153.38" y="373.99" width="49.51" height="10.87" fill="#f7f2b8" />
<rect x="201.89" y="373.99" width="48.51" height="10.87" fill="#f7f2b8" />
<rect x="56.35" y="383.86" width="49.51" height="10.87" fill="#ecdf30" />
<rect x="104.86" y="383.86" width="49.51" height="10.87" fill="#ebdc25" />
<rect x="153.38" y="383.86" width="49.51" height="10.87" fill="#f8f4c4" />
<rect x="201.89" y="383.86" width="48.51" height="10.87" fill="#faf8e2" />
<rect x="56.35" y="393.73" width="49.51" height="9.87" fill="#ebdc20" />
<rect x="104.86" y="393.73" width="49.51" height="9.87" fill="#ecdf40" />
<rect x="153.38" y="393.73" width="49.51" height="9.87" fill="#ffffff" />
<rect x="201.89" y="393.73" width="48.51" height="9.87" fill="#ffffff" />
<rect x="56.35" y="334.50" width="194.05" height="69.10" fill="none" stroke="#0a0a0a" stroke-width="1.3"/>
<defs><linearGradient id="g2" x1="0" y1="0" x2="0" y2="1"><stop offset="0" stop-color="#ebdc22"/><stop offset="0.35" stop-color="#eee050"/><stop offset="1" stop-color="#ffffff"/></linearGradient></defs>
<rect x="28.30" y="334.60" width="13.30" height="68.70" fill="url(#g2)" />
<line x1="28.30" y1="344.20" x2="31.30" y2="344.20" stroke="#111" stroke-width="1.5" />
<line x1="38.60" y1="344.20" x2="41.60" y2="344.20" stroke="#111" stroke-width="1.5" />
<line x1="28.30" y1="365.00" x2="31.30" y2="365.00" stroke="#111" stroke-width="1.5" />
<line x1="38.60" y1="365.00" x2="41.60" y2="365.00" stroke="#111" stroke-width="1.5" />
<line x1="28.30" y1="385.60" x2="31.30" y2="385.60" stroke="#111" stroke-width="1.5" />
<line x1="38.60" y1="385.60" x2="41.60" y2="385.60" stroke="#111" stroke-width="1.5" />
<rect x="28.30" y="334.60" width="13.30" height="68.70" fill="none" stroke="#111" stroke-width="1.25"/>
<text x="23.00" y="347.80" font-size="10" text-anchor="end" fill="#231f20" >0</text>
<text x="23.00" y="368.60" font-size="10" text-anchor="end" fill="#231f20" >−1</text>
<text x="23.00" y="389.20" font-size="10" text-anchor="end" fill="#231f20" >−2</text>
<text x="255.50" y="340.98" font-size="8.8" text-anchor="start" fill="#231f20" >Map2k1</text>
<text x="255.50" y="350.93" font-size="8.8" text-anchor="start" fill="#231f20" >Mapk3</text>
<text x="255.50" y="360.88" font-size="8.8" text-anchor="start" fill="#231f20" >Fn3k</text>
<text x="255.50" y="370.82" font-size="8.8" text-anchor="start" fill="#231f20" >Ser/Thr PP</text>
<text x="255.50" y="380.77" font-size="8.8" text-anchor="start" fill="#231f20" >Dusp3</text>
<text x="255.50" y="390.73" font-size="8.8" text-anchor="start" fill="#231f20" >Ppp2r2d</text>
<text x="255.50" y="400.68" font-size="8.8" text-anchor="start" fill="#231f20" >Pgp</text>
<line x1="315.10" y1="335.20" x2="315.10" y2="405.20" stroke="#111" stroke-width="2.0" />
<text x="0" y="0" font-size="10.2" text-anchor="middle" fill="#f7c81e" transform="translate(321.90,369.80) rotate(90)">phosphorylation</text>
<rect x="56.00" y="415.80" width="49.62" height="10.80" fill="#e85555" />
<rect x="104.62" y="415.80" width="49.62" height="10.80" fill="#e03535" />
<rect x="153.25" y="415.80" width="49.62" height="10.80" fill="#e03838" />
<rect x="201.88" y="415.80" width="48.62" height="10.80" fill="#dd3030" />
<rect x="56.00" y="425.60" width="49.62" height="10.80" fill="#dd2a2a" />
<rect x="104.62" y="425.60" width="49.62" height="10.80" fill="#e04040" />
<rect x="153.25" y="425.60" width="49.62" height="10.80" fill="#ee6e6e" />
<rect x="201.88" y="425.60" width="48.62" height="10.80" fill="#ea5a5a" />
<rect x="56.00" y="435.40" width="49.62" height="10.80" fill="#dd2a2a" />
<rect x="104.62" y="435.40" width="49.62" height="10.80" fill="#dd2525" />
<rect x="153.25" y="435.40" width="49.62" height="10.80" fill="#f4afaf" />
<rect x="201.88" y="435.40" width="48.62" height="10.80" fill="#f4afaf" />
<rect x="56.00" y="445.20" width="49.62" height="9.80" fill="#e03535" />
<rect x="104.62" y="445.20" width="49.62" height="9.80" fill="#ec6262" />
<rect x="153.25" y="445.20" width="49.62" height="9.80" fill="#f29a9a" />
<rect x="201.88" y="445.20" width="48.62" height="9.80" fill="#ffffff" />
<rect x="56.00" y="415.80" width="194.50" height="39.20" fill="none" stroke="#0a0a0a" stroke-width="1.3"/>
<defs><linearGradient id="g3" x1="0" y1="0" x2="0" y2="1"><stop offset="0" stop-color="#dd2a2a"/><stop offset="0.4" stop-color="#e65a5a"/><stop offset="1" stop-color="#ffffff"/></linearGradient></defs>
<rect x="28.30" y="415.70" width="13.30" height="39.10" fill="url(#g3)" />
<line x1="28.30" y1="421.40" x2="31.30" y2="421.40" stroke="#111" stroke-width="1.5" />
<line x1="38.60" y1="421.40" x2="41.60" y2="421.40" stroke="#111" stroke-width="1.5" />
<line x1="28.30" y1="432.60" x2="31.30" y2="432.60" stroke="#111" stroke-width="1.5" />
<line x1="38.60" y1="432.60" x2="41.60" y2="432.60" stroke="#111" stroke-width="1.5" />
<line x1="28.30" y1="443.60" x2="31.30" y2="443.60" stroke="#111" stroke-width="1.5" />
<line x1="38.60" y1="443.60" x2="41.60" y2="443.60" stroke="#111" stroke-width="1.5" />
<rect x="28.30" y="415.70" width="13.30" height="39.10" fill="none" stroke="#111" stroke-width="1.25"/>
<text x="23.00" y="425.00" font-size="10" text-anchor="end" fill="#231f20" >0</text>
<text x="23.00" y="436.20" font-size="10" text-anchor="end" fill="#231f20" >−1</text>
<text x="23.00" y="447.20" font-size="10" text-anchor="end" fill="#231f20" >−2</text>
<text x="23.00" y="458.00" font-size="10" text-anchor="end" fill="#231f20" >−3</text>
<text x="255.50" y="422.75" font-size="8.8" text-anchor="start" fill="#231f20" >Cluh</text>
<text x="255.50" y="432.65" font-size="8.8" text-anchor="start" fill="#231f20" >Rcc2</text>
<text x="255.50" y="442.55" font-size="8.8" text-anchor="start" fill="#231f20" >Apeh</text>
<text x="255.50" y="452.45" font-size="8.8" text-anchor="start" fill="#231f20" >Rnh1</text>
<line x1="314.60" y1="416.80" x2="314.60" y2="454.10" stroke="#111" stroke-width="2.0" />
<text x="0" y="0" font-size="10.2" text-anchor="middle" fill="#e8413b" transform="translate(321.90,435.50) rotate(90)">RNA</text>
<rect x="57.30" y="467.00" width="49.53" height="10.82" fill="#4048a2" />
<rect x="105.83" y="467.00" width="49.53" height="10.82" fill="#4f55aa" />
<rect x="154.35" y="467.00" width="49.53" height="10.82" fill="#5558ac" />
<rect x="202.88" y="467.00" width="48.53" height="10.82" fill="#3f48a2" />
<rect x="57.30" y="476.82" width="49.53" height="10.82" fill="#4048a2" />
<rect x="105.83" y="476.82" width="49.53" height="10.82" fill="#3d46a0" />
<rect x="154.35" y="476.82" width="49.53" height="10.82" fill="#474fa6" />
<rect x="202.88" y="476.82" width="48.53" height="10.82" fill="#4d53a8" />
<rect x="57.30" y="486.65" width="49.53" height="10.82" fill="#3f47a0" />
<rect x="105.83" y="486.65" width="49.53" height="10.82" fill="#3a449e" />
<rect x="154.35" y="486.65" width="49.53" height="10.82" fill="#4e54a9" />
<rect x="202.88" y="486.65" width="48.53" height="10.82" fill="#4e54a9" />
<rect x="57.30" y="496.48" width="49.53" height="10.82" fill="#3f47a0" />
<rect x="105.83" y="496.48" width="49.53" height="10.82" fill="#434ba3" />
<rect x="154.35" y="496.48" width="49.53" height="10.82" fill="#6463b2" />
<rect x="202.88" y="496.48" width="48.53" height="10.82" fill="#5557ac" />
<rect x="57.30" y="506.30" width="49.53" height="10.82" fill="#434ba3" />
<rect x="105.83" y="506.30" width="49.53" height="10.82" fill="#4a50a7" />
<rect x="154.35" y="506.30" width="49.53" height="10.82" fill="#5b5cae" />
<rect x="202.88" y="506.30" width="48.53" height="10.82" fill="#5557ac" />
<rect x="57.30" y="516.12" width="49.53" height="10.82" fill="#4c52a8" />
<rect x="105.83" y="516.12" width="49.53" height="10.82" fill="#4a50a7" />
<rect x="154.35" y="516.12" width="49.53" height="10.82" fill="#5b5cae" />
<rect x="202.88" y="516.12" width="48.53" height="10.82" fill="#5c5db0" />
<rect x="57.30" y="525.95" width="49.53" height="10.82" fill="#5e5eb0" />
<rect x="105.83" y="525.95" width="49.53" height="10.82" fill="#454ca4" />
<rect x="154.35" y="525.95" width="49.53" height="10.82" fill="#5b5cae" />
<rect x="202.88" y="525.95" width="48.53" height="10.82" fill="#5c5db0" />
<rect x="57.30" y="535.77" width="49.53" height="10.82" fill="#3f47a0" />
<rect x="105.83" y="535.77" width="49.53" height="10.82" fill="#3a449e" />
<rect x="154.35" y="535.77" width="49.53" height="10.82" fill="#3c46a0" />
<rect x="202.88" y="535.77" width="48.53" height="10.82" fill="#5c5db0" />
<rect x="57.30" y="545.60" width="49.53" height="10.82" fill="#3f47a0" />
<rect x="105.83" y="545.60" width="49.53" height="10.82" fill="#3f47a0" />
<rect x="154.35" y="545.60" width="49.53" height="10.82" fill="#5e5eb0" />
<rect x="202.88" y="545.60" width="48.53" height="10.82" fill="#5c5db0" />
<rect x="57.30" y="555.42" width="49.53" height="10.82" fill="#3f47a0" />
<rect x="105.83" y="555.42" width="49.53" height="10.82" fill="#3f47a0" />
<rect x="154.35" y="555.42" width="49.53" height="10.82" fill="#4a50a7" />
<rect x="202.88" y="555.42" width="48.53" height="10.82" fill="#6866b4" />
<rect x="57.30" y="565.25" width="49.53" height="10.82" fill="#434ba3" />
<rect x="105.83" y="565.25" width="49.53" height="10.82" fill="#434ba3" />
<rect x="154.35" y="565.25" width="49.53" height="10.82" fill="#7270b6" />
<rect x="202.88" y="565.25" width="48.53" height="10.82" fill="#7574b8" />
<rect x="57.30" y="575.08" width="49.53" height="10.82" fill="#434ba3" />
<rect x="105.83" y="575.08" width="49.53" height="10.82" fill="#434ba3" />
<rect x="154.35" y="575.08" width="49.53" height="10.82" fill="#5a5aae" />
<rect x="202.88" y="575.08" width="48.53" height="10.82" fill="#7574b8" />
<rect x="57.30" y="584.90" width="49.53" height="10.82" fill="#3c46a0" />
<rect x="105.83" y="584.90" width="49.53" height="10.82" fill="#3a449e" />
<rect x="154.35" y="584.90" width="49.53" height="10.82" fill="#7574b8" />
<rect x="202.88" y="584.90" width="48.53" height="10.82" fill="#7574b8" />
<rect x="57.30" y="594.73" width="49.53" height="10.82" fill="#3c46a0" />
<rect x="105.83" y="594.73" width="49.53" height="10.82" fill="#4148a2" />
<rect x="154.35" y="594.73" width="49.53" height="10.82" fill="#7574b8" />
<rect x="202.88" y="594.73" width="48.53" height="10.82" fill="#7574b8" />
<rect x="57.30" y="604.55" width="49.53" height="10.82" fill="#4148a2" />
<rect x="105.83" y="604.55" width="49.53" height="10.82" fill="#454ca4" />
<rect x="154.35" y="604.55" width="49.53" height="10.82" fill="#7574b8" />
<rect x="202.88" y="604.55" width="48.53" height="10.82" fill="#7574b8" />
<rect x="57.30" y="614.38" width="49.53" height="10.82" fill="#4148a2" />
<rect x="105.83" y="614.38" width="49.53" height="10.82" fill="#3f47a0" />
<rect x="154.35" y="614.38" width="49.53" height="10.82" fill="#7574b8" />
<rect x="202.88" y="614.38" width="48.53" height="10.82" fill="#7574b8" />
<rect x="57.30" y="624.20" width="49.53" height="10.82" fill="#4a50a7" />
<rect x="105.83" y="624.20" width="49.53" height="10.82" fill="#4a50a7" />
<rect x="154.35" y="624.20" width="49.53" height="10.82" fill="#7574b8" />
<rect x="202.88" y="624.20" width="48.53" height="10.82" fill="#8482c0" />
<rect x="57.30" y="634.02" width="49.53" height="10.82" fill="#4148a2" />
<rect x="105.83" y="634.02" width="49.53" height="10.82" fill="#3c46a0" />
<rect x="154.35" y="634.02" width="49.53" height="10.82" fill="#8b88c2" />
<rect x="202.88" y="634.02" width="48.53" height="10.82" fill="#8b88c2" />
<rect x="57.30" y="643.85" width="49.53" height="10.82" fill="#5b5cae" />
<rect x="105.83" y="643.85" width="49.53" height="10.82" fill="#474ea6" />
<rect x="154.35" y="643.85" width="49.53" height="10.82" fill="#8b88c2" />
<rect x="202.88" y="643.85" width="48.53" height="10.82" fill="#8b88c2" />
<rect x="57.30" y="653.67" width="49.53" height="10.82" fill="#4148a2" />
<rect x="105.83" y="653.67" width="49.53" height="10.82" fill="#4148a2" />
<rect x="154.35" y="653.67" width="49.53" height="10.82" fill="#8b88c2" />
<rect x="202.88" y="653.67" width="48.53" height="10.82" fill="#8b88c2" />
<rect x="57.30" y="663.50" width="49.53" height="10.82" fill="#474ea6" />
<rect x="105.83" y="663.50" width="49.53" height="10.82" fill="#4148a2" />
<rect x="154.35" y="663.50" width="49.53" height="10.82" fill="#8b88c2" />
<rect x="202.88" y="663.50" width="48.53" height="10.82" fill="#8b88c2" />
<rect x="57.30" y="673.33" width="49.53" height="10.82" fill="#3f47a0" />
<rect x="105.83" y="673.33" width="49.53" height="10.82" fill="#3c46a0" />
<rect x="154.35" y="673.33" width="49.53" height="10.82" fill="#5a5aae" />
<rect x="202.88" y="673.33" width="48.53" height="10.82" fill="#8b88c2" />
<rect x="57.30" y="683.15" width="49.53" height="10.82" fill="#434ba3" />
<rect x="105.83" y="683.15" width="49.53" height="10.82" fill="#6664b2" />
<rect x="154.35" y="683.15" width="49.53" height="10.82" fill="#5557ac" />
<rect x="202.88" y="683.15" width="48.53" height="10.82" fill="#9896c8" />
<rect x="57.30" y="692.98" width="49.53" height="10.82" fill="#3a449e" />
<rect x="105.83" y="692.98" width="49.53" height="10.82" fill="#3c46a0" />
<rect x="154.35" y="692.98" width="49.53" height="10.82" fill="#5557ac" />
<rect x="202.88" y="692.98" width="48.53" height="10.82" fill="#9896c8" />
<rect x="57.30" y="702.80" width="49.53" height="10.82" fill="#3a449e" />
<rect x="105.83" y="702.80" width="49.53" height="10.82" fill="#434ba3" />
<rect x="154.35" y="702.80" width="49.53" height="10.82" fill="#9896c8" />
<rect x="202.88" y="702.80" width="48.53" height="10.82" fill="#9896c8" />
<rect x="57.30" y="712.62" width="49.53" height="10.82" fill="#6060b0" />
<rect x="105.83" y="712.62" width="49.53" height="10.82" fill="#5557ac" />
<rect x="154.35" y="712.62" width="49.53" height="10.82" fill="#a4a2cf" />
<rect x="202.88" y="712.62" width="48.53" height="10.82" fill="#a4a2cf" />
<rect x="57.30" y="722.45" width="49.53" height="10.82" fill="#434ba3" />
<rect x="105.83" y="722.45" width="49.53" height="10.82" fill="#4148a2" />
<rect x="154.35" y="722.45" width="49.53" height="10.82" fill="#aeacd4" />
<rect x="202.88" y="722.45" width="48.53" height="10.82" fill="#aeacd4" />
<rect x="57.30" y="732.27" width="49.53" height="10.82" fill="#434ba3" />
<rect x="105.83" y="732.27" width="49.53" height="10.82" fill="#4148a2" />
<rect x="154.35" y="732.27" width="49.53" height="10.82" fill="#aeacd4" />
<rect x="202.88" y="732.27" width="48.53" height="10.82" fill="#aeacd4" />
<rect x="57.30" y="742.10" width="49.53" height="10.82" fill="#434ba3" />
<rect x="105.83" y="742.10" width="49.53" height="10.82" fill="#4a50a7" />
<rect x="154.35" y="742.10" width="49.53" height="10.82" fill="#8f8cc4" />
<rect x="202.88" y="742.10" width="48.53" height="10.82" fill="#aeacd4" />
<rect x="57.30" y="751.92" width="49.53" height="10.82" fill="#434ba3" />
<rect x="105.83" y="751.92" width="49.53" height="10.82" fill="#434ba3" />
<rect x="154.35" y="751.92" width="49.53" height="10.82" fill="#c0bede" />
<rect x="202.88" y="751.92" width="48.53" height="10.82" fill="#c0bede" />
<rect x="57.30" y="761.75" width="49.53" height="10.82" fill="#4a50a7" />
<rect x="105.83" y="761.75" width="49.53" height="10.82" fill="#434ba3" />
<rect x="154.35" y="761.75" width="49.53" height="10.82" fill="#b2b0d6" />
<rect x="202.88" y="761.75" width="48.53" height="10.82" fill="#f4f4f8" />
<rect x="57.30" y="771.58" width="49.53" height="9.82" fill="#434ba3" />
<rect x="105.83" y="771.58" width="49.53" height="9.82" fill="#434ba3" />
<rect x="154.35" y="771.58" width="49.53" height="9.82" fill="#ffffff" />
<rect x="202.88" y="771.58" width="48.53" height="9.82" fill="#ffffff" />
<rect x="57.30" y="467.00" width="194.10" height="314.40" fill="none" stroke="#0a0a0a" stroke-width="1.3"/>
<defs><linearGradient id="g4" x1="0" y1="0" x2="0" y2="1"><stop offset="0" stop-color="#3d47a0"/><stop offset="0.3" stop-color="#4a50a8"/><stop offset="0.6" stop-color="#8a88c4"/><stop offset="1" stop-color="#f8f8fb"/></linearGradient></defs>
<rect x="28.40" y="467.40" width="13.20" height="314.50" fill="url(#g4)" />
<line x1="28.40" y1="520.20" x2="31.40" y2="520.20" stroke="#111" stroke-width="1.5" />
<line x1="38.60" y1="520.20" x2="41.60" y2="520.20" stroke="#111" stroke-width="1.5" />
<line x1="28.40" y1="573.00" x2="31.40" y2="573.00" stroke="#111" stroke-width="1.5" />
<line x1="38.60" y1="573.00" x2="41.60" y2="573.00" stroke="#111" stroke-width="1.5" />
<line x1="28.40" y1="625.80" x2="31.40" y2="625.80" stroke="#111" stroke-width="1.5" />
<line x1="38.60" y1="625.80" x2="41.60" y2="625.80" stroke="#111" stroke-width="1.5" />
<line x1="28.40" y1="678.60" x2="31.40" y2="678.60" stroke="#111" stroke-width="1.5" />
<line x1="38.60" y1="678.60" x2="41.60" y2="678.60" stroke="#111" stroke-width="1.5" />
<line x1="28.40" y1="731.40" x2="31.40" y2="731.40" stroke="#111" stroke-width="1.5" />
<line x1="38.60" y1="731.40" x2="41.60" y2="731.40" stroke="#111" stroke-width="1.5" />
<rect x="28.40" y="467.40" width="13.20" height="314.50" fill="none" stroke="#111" stroke-width="1.25"/>
<text x="23.00" y="471.00" font-size="10" text-anchor="end" fill="#231f20" >1</text>
<text x="23.00" y="523.80" font-size="10" text-anchor="end" fill="#231f20" >0</text>
<text x="23.00" y="576.60" font-size="10" text-anchor="end" fill="#231f20" >−1</text>
<text x="23.00" y="629.40" font-size="10" text-anchor="end" fill="#231f20" >−2</text>
<text x="23.00" y="682.20" font-size="10" text-anchor="end" fill="#231f20" >−3</text>
<text x="23.00" y="735.00" font-size="10" text-anchor="end" fill="#231f20" >−4</text>
<text x="255.50" y="474.13" font-size="8.8" text-anchor="start" fill="#231f20" >Lancl2</text>
<text x="255.50" y="483.98" font-size="8.8" text-anchor="start" fill="#231f20" >100911774</text>
<text x="255.50" y="493.84" font-size="8.8" text-anchor="start" fill="#231f20" >Otub1</text>
<text x="255.50" y="503.70" font-size="8.8" text-anchor="start" fill="#231f20" >Rnf14</text>
<text x="255.50" y="513.55" font-size="8.8" text-anchor="start" fill="#231f20" >Gda</text>
<text x="255.50" y="523.41" font-size="8.8" text-anchor="start" fill="#231f20" >Agl</text>
<text x="255.50" y="533.27" font-size="8.8" text-anchor="start" fill="#231f20" >Faf1</text>
<text x="255.50" y="543.12" font-size="8.8" text-anchor="start" fill="#231f20" >Sms</text>
<text x="255.50" y="552.98" font-size="8.8" text-anchor="start" fill="#231f20" >Tbce</text>
<text x="255.50" y="562.83" font-size="8.8" text-anchor="start" fill="#231f20" >Snx1</text>
<text x="255.50" y="572.69" font-size="8.8" text-anchor="start" fill="#231f20" >Nedd4</text>
<text x="255.50" y="582.55" font-size="8.8" text-anchor="start" fill="#231f20" >Thop1</text>
<text x="255.50" y="592.40" font-size="8.8" text-anchor="start" fill="#231f20" >Herc4</text>
<text x="255.50" y="602.26" font-size="8.8" text-anchor="start" fill="#231f20" >Flad1</text>
<text x="255.50" y="612.12" font-size="8.8" text-anchor="start" fill="#231f20" >Nae1</text>
<text x="255.50" y="621.97" font-size="8.8" text-anchor="start" fill="#231f20" >Ubr1</text>
<text x="255.50" y="631.83" font-size="8.8" text-anchor="start" fill="#231f20" >Ctbp1</text>
<text x="255.50" y="641.68" font-size="8.8" text-anchor="start" fill="#231f20" >Ermn</text>
<text x="255.50" y="651.54" font-size="8.8" text-anchor="start" fill="#231f20" >Fam169a</text>
<text x="255.50" y="661.40" font-size="8.8" text-anchor="start" fill="#231f20" >Mtap</text>
<text x="255.50" y="671.25" font-size="8.8" text-anchor="start" fill="#231f20" >Tecpr1</text>
<text x="255.50" y="681.11" font-size="8.8" text-anchor="start" fill="#231f20" >Txnl1</text>
<text x="255.50" y="690.97" font-size="8.8" text-anchor="start" fill="#231f20" >Prune</text>
<text x="255.50" y="700.82" font-size="8.8" text-anchor="start" fill="#231f20" >Capns1</text>
<text x="255.50" y="710.68" font-size="8.8" text-anchor="start" fill="#231f20" >Dhps</text>
<text x="255.50" y="720.53" font-size="8.8" text-anchor="start" fill="#231f20" >Mat2b</text>
<text x="255.50" y="730.39" font-size="8.8" text-anchor="start" fill="#231f20" >Padi2</text>
<text x="255.50" y="740.25" font-size="8.8" text-anchor="start" fill="#231f20" >Pepd</text>
<text x="255.50" y="750.10" font-size="8.8" text-anchor="start" fill="#231f20" >Ctbp2</text>
<text x="255.50" y="759.96" font-size="8.8" text-anchor="start" fill="#231f20" >Asns</text>
<text x="255.50" y="769.82" font-size="8.8" text-anchor="start" fill="#231f20" >Polidip2</text>
<text x="255.50" y="779.67" font-size="8.8" text-anchor="start" fill="#231f20" >Fbxo3</text>
<line x1="315.40" y1="468.40" x2="315.40" y2="782.40" stroke="#111" stroke-width="2.0" />
<text x="0" y="0" font-size="10.2" text-anchor="middle" fill="#4a50b0" transform="translate(321.90,625.10) rotate(90)">Other</text>
<text x="79.50" y="794.00" font-size="10.2" text-anchor="middle" fill="#231f20" >0</text>
<text x="129.10" y="794.00" font-size="10.2" text-anchor="middle" fill="#231f20" >1</text>
<text x="178.80" y="794.00" font-size="10.2" text-anchor="middle" fill="#231f20" >8</text>
<text x="227.80" y="794.00" font-size="10.2" text-anchor="middle" fill="#231f20" >24</text>
<line x1="57.70" y1="801.20" x2="250.80" y2="801.20" stroke="#111" stroke-width="1.6" />
<text x="154.20" y="814.30" font-size="10.2" text-anchor="middle" fill="#231f20" >Hours of aggregation</text>
<text x="447.40" y="272.00" font-size="10.2" text-anchor="start" fill="#231f20" >Interactors</text>
<text x="499.10" y="272.00" font-size="10.2" text-anchor="start" fill="#231f20" font-style="italic">increasing</text>
<text x="550.90" y="272.00" font-size="10.2" text-anchor="start" fill="#231f20" >in abundance</text>
<text x="376.60" y="283.60" font-size="10" fill="#231f20">log2(<tspan font-style="italic" dx="0.3">t</tspan><tspan font-style="italic" font-size="7.6" dy="2.6">x</tspan><tspan dy="-2.6" dx="0.5">/</tspan><tspan font-style="italic" dx="0.3">t</tspan><tspan font-size="7.6" dy="2.6">0</tspan><tspan dy="-2.6" dx="0.5">)</tspan></text>
<rect x="417.70" y="292.85" width="49.92" height="10.03" fill="#f8f4d0" />
<rect x="466.62" y="292.85" width="49.92" height="10.03" fill="#efe468" />
<rect x="515.55" y="292.85" width="49.92" height="10.03" fill="#ecde20" />
<rect x="564.47" y="292.85" width="48.92" height="10.03" fill="#ecde20" />
<rect x="417.70" y="301.88" width="49.92" height="10.03" fill="#f5eea8" />
<rect x="466.62" y="301.88" width="49.92" height="10.03" fill="#efe468" />
<rect x="515.55" y="301.88" width="49.92" height="10.03" fill="#ecde20" />
<rect x="564.47" y="301.88" width="48.92" height="10.03" fill="#ecde20" />
<rect x="417.70" y="310.90" width="49.92" height="10.03" fill="#fbfaf0" />
<rect x="466.62" y="310.90" width="49.92" height="10.03" fill="#f7f2c8" />
<rect x="515.55" y="310.90" width="49.92" height="10.03" fill="#eee250" />
<rect x="564.47" y="310.90" width="48.92" height="10.03" fill="#eee455" />
<rect x="417.70" y="319.93" width="49.92" height="10.03" fill="#f5eea8" />
<rect x="466.62" y="319.93" width="49.92" height="10.03" fill="#f5eea8" />
<rect x="515.55" y="319.93" width="49.92" height="10.03" fill="#f0e678" />
<rect x="564.47" y="319.93" width="48.92" height="10.03" fill="#f0e678" />
<rect x="417.70" y="328.95" width="49.92" height="10.03" fill="#fcfbf5" />
<rect x="466.62" y="328.95" width="49.92" height="10.03" fill="#f6f3d8" />
<rect x="515.55" y="328.95" width="49.92" height="10.03" fill="#f0e678" />
<rect x="564.47" y="328.95" width="48.92" height="10.03" fill="#f0e678" />
<rect x="417.70" y="337.98" width="49.92" height="10.03" fill="#f8f2c8" />
<rect x="466.62" y="337.98" width="49.92" height="10.03" fill="#f6f0b8" />
<rect x="515.55" y="337.98" width="49.92" height="10.03" fill="#f0e678" />
<rect x="564.47" y="337.98" width="48.92" height="10.03" fill="#f0e678" />
<rect x="417.70" y="347.00" width="49.92" height="10.03" fill="#f6f0b8" />
<rect x="466.62" y="347.00" width="49.92" height="10.03" fill="#f0e678" />
<rect x="515.55" y="347.00" width="49.92" height="10.03" fill="#f0e678" />
<rect x="564.47" y="347.00" width="48.92" height="10.03" fill="#f2ea88" />
<rect x="417.70" y="356.03" width="49.92" height="10.03" fill="#f8f6e0" />
<rect x="466.62" y="356.03" width="49.92" height="10.03" fill="#fbfaf0" />
<rect x="515.55" y="356.03" width="49.92" height="10.03" fill="#f4ec98" />
<rect x="564.47" y="356.03" width="48.92" height="10.03" fill="#f2ea88" />
<rect x="417.70" y="365.05" width="49.92" height="10.03" fill="#f9f7e5" />
<rect x="466.62" y="365.05" width="49.92" height="10.03" fill="#f9f7e5" />
<rect x="515.55" y="365.05" width="49.92" height="10.03" fill="#f2ea88" />
<rect x="564.47" y="365.05" width="48.92" height="10.03" fill="#f2ea88" />
<rect x="417.70" y="374.08" width="49.92" height="9.03" fill="#f9f7e5" />
<rect x="466.62" y="374.08" width="49.92" height="9.03" fill="#f9f7e5" />
<rect x="515.55" y="374.08" width="49.92" height="9.03" fill="#f6f0b0" />
<rect x="564.47" y="374.08" width="48.92" height="9.03" fill="#f2ea88" />
<rect x="417.70" y="292.85" width="195.70" height="90.25" fill="none" stroke="#0a0a0a" stroke-width="1.3"/>
<defs><linearGradient id="g5" x1="0" y1="0" x2="0" y2="1"><stop offset="0" stop-color="#ebdc22"/><stop offset="0.4" stop-color="#efe466"/><stop offset="1" stop-color="#ffffff"/></linearGradient></defs>
<rect x="387.60" y="292.40" width="14.30" height="91.60" fill="url(#g5)" />
<line x1="387.60" y1="309.60" x2="390.60" y2="309.60" stroke="#111" stroke-width="1.5" />
<line x1="398.90" y1="309.60" x2="401.90" y2="309.60" stroke="#111" stroke-width="1.5" />
<line x1="387.60" y1="332.40" x2="390.60" y2="332.40" stroke="#111" stroke-width="1.5" />
<line x1="398.90" y1="332.40" x2="401.90" y2="332.40" stroke="#111" stroke-width="1.5" />
<line x1="387.60" y1="355.40" x2="390.60" y2="355.40" stroke="#111" stroke-width="1.5" />
<line x1="398.90" y1="355.40" x2="401.90" y2="355.40" stroke="#111" stroke-width="1.5" />
<line x1="387.60" y1="378.60" x2="390.60" y2="378.60" stroke="#111" stroke-width="1.5" />
<line x1="398.90" y1="378.60" x2="401.90" y2="378.60" stroke="#111" stroke-width="1.5" />
<rect x="387.60" y="292.40" width="14.30" height="91.60" fill="none" stroke="#111" stroke-width="1.25"/>
<text x="382.60" y="313.20" font-size="10" text-anchor="end" fill="#231f20" >6</text>
<text x="382.60" y="336.00" font-size="10" text-anchor="end" fill="#231f20" >4</text>
<text x="382.60" y="359.00" font-size="10" text-anchor="end" fill="#231f20" >2</text>
<text x="382.60" y="382.20" font-size="10" text-anchor="end" fill="#231f20" >0</text>
<text x="618.40" y="298.79" font-size="8.8" text-anchor="start" fill="#231f20" >Tnik</text>
<text x="618.40" y="307.96" font-size="8.8" text-anchor="start" fill="#231f20" >Mink1</text>
<text x="618.40" y="317.13" font-size="8.8" text-anchor="start" fill="#231f20" >Nf2</text>
<text x="618.40" y="326.30" font-size="8.8" text-anchor="start" fill="#231f20" >Phactr1</text>
<text x="618.40" y="335.47" font-size="8.8" text-anchor="start" fill="#231f20" >Arhgef2</text>
<text x="618.40" y="344.64" font-size="8.8" text-anchor="start" fill="#231f20" >Fgb</text>
<text x="618.40" y="353.81" font-size="8.8" text-anchor="start" fill="#231f20" >Vtn</text>
<text x="618.40" y="362.98" font-size="8.8" text-anchor="start" fill="#231f20" >Pfkfb3</text>
<text x="618.40" y="372.15" font-size="8.8" text-anchor="start" fill="#231f20" >Fgf2</text>
<text x="618.40" y="381.32" font-size="8.8" text-anchor="start" fill="#231f20" >Map3k7</text>
<line x1="669.70" y1="293.00" x2="669.70" y2="383.70" stroke="#111" stroke-width="2.0" />
<text x="0" y="0" font-size="10.2" text-anchor="middle" fill="#f7c81e" transform="translate(677.30,338.50) rotate(90)">Phosphorylation</text>
<rect x="417.60" y="395.70" width="49.90" height="10.08" fill="#f6b8b8" />
<rect x="466.50" y="395.70" width="49.90" height="10.08" fill="#f29a9a" />
<rect x="515.40" y="395.70" width="49.90" height="10.08" fill="#de2e2e" />
<rect x="564.30" y="395.70" width="48.90" height="10.08" fill="#de2e2e" />
<rect x="417.60" y="404.78" width="49.90" height="10.08" fill="#f07e7e" />
<rect x="466.50" y="404.78" width="49.90" height="10.08" fill="#f07474" />
<rect x="515.40" y="404.78" width="49.90" height="10.08" fill="#e23a3a" />
<rect x="564.30" y="404.78" width="48.90" height="10.08" fill="#de2e2e" />
<rect x="417.60" y="413.86" width="49.90" height="10.08" fill="#fae6e6" />
<rect x="466.50" y="413.86" width="49.90" height="10.08" fill="#fae6e6" />
<rect x="515.40" y="413.86" width="49.90" height="10.08" fill="#e03434" />
<rect x="564.30" y="413.86" width="48.90" height="10.08" fill="#de2e2e" />
<rect x="417.60" y="422.94" width="49.90" height="10.08" fill="#fae6e6" />
<rect x="466.50" y="422.94" width="49.90" height="10.08" fill="#ee6a6a" />
<rect x="515.40" y="422.94" width="49.90" height="10.08" fill="#e23a3a" />
<rect x="564.30" y="422.94" width="48.90" height="10.08" fill="#de2e2e" />
<rect x="417.60" y="432.02" width="49.90" height="10.08" fill="#fae6e6" />
<rect x="466.50" y="432.02" width="49.90" height="10.08" fill="#ee6a6a" />
<rect x="515.40" y="432.02" width="49.90" height="10.08" fill="#dd2a2a" />
<rect x="564.30" y="432.02" width="48.90" height="10.08" fill="#de2e2e" />
<rect x="417.60" y="441.10" width="49.90" height="10.08" fill="#f29494" />
<rect x="466.50" y="441.10" width="49.90" height="10.08" fill="#ee7070" />
<rect x="515.40" y="441.10" width="49.90" height="10.08" fill="#e03434" />
<rect x="564.30" y="441.10" width="48.90" height="10.08" fill="#de2e2e" />
<rect x="417.60" y="450.18" width="49.90" height="10.08" fill="#fae8e8" />
<rect x="466.50" y="450.18" width="49.90" height="10.08" fill="#ee6060" />
<rect x="515.40" y="450.18" width="49.90" height="10.08" fill="#e44444" />
<rect x="564.30" y="450.18" width="48.90" height="10.08" fill="#de2e2e" />
<rect x="417.60" y="459.26" width="49.90" height="10.08" fill="#fae8e8" />
<rect x="466.50" y="459.26" width="49.90" height="10.08" fill="#fae6e6" />
<rect x="515.40" y="459.26" width="49.90" height="10.08" fill="#e44444" />
<rect x="564.30" y="459.26" width="48.90" height="10.08" fill="#de2e2e" />
<rect x="417.60" y="468.34" width="49.90" height="10.08" fill="#f29494" />
<rect x="466.50" y="468.34" width="49.90" height="10.08" fill="#ef7070" />
<rect x="515.40" y="468.34" width="49.90" height="10.08" fill="#f07878" />
<rect x="564.30" y="468.34" width="48.90" height="10.08" fill="#e44444" />
<rect x="417.60" y="477.42" width="49.90" height="10.08" fill="#f6b4b4" />
<rect x="466.50" y="477.42" width="49.90" height="10.08" fill="#f6b4b4" />
<rect x="515.40" y="477.42" width="49.90" height="10.08" fill="#e65050" />
<rect x="564.30" y="477.42" width="48.90" height="10.08" fill="#e44444" />
<rect x="417.60" y="486.50" width="49.90" height="10.08" fill="#fad8d8" />
<rect x="466.50" y="486.50" width="49.90" height="10.08" fill="#f4a6a6" />
<rect x="515.40" y="486.50" width="49.90" height="10.08" fill="#e44848" />
<rect x="564.30" y="486.50" width="48.90" height="10.08" fill="#e23e3e" />
<rect x="417.60" y="495.58" width="49.90" height="10.08" fill="#fceeee" />
<rect x="466.50" y="495.58" width="49.90" height="10.08" fill="#fceeee" />
<rect x="515.40" y="495.58" width="49.90" height="10.08" fill="#ee7272" />
<rect x="564.30" y="495.58" width="48.90" height="10.08" fill="#e65050" />
<rect x="417.60" y="504.66" width="49.90" height="10.08" fill="#f8c8c8" />
<rect x="466.50" y="504.66" width="49.90" height="10.08" fill="#f29a9a" />
<rect x="515.40" y="504.66" width="49.90" height="10.08" fill="#e85858" />
<rect x="564.30" y="504.66" width="48.90" height="10.08" fill="#e65050" />
<rect x="417.60" y="513.74" width="49.90" height="10.08" fill="#fae6e6" />
<rect x="466.50" y="513.74" width="49.90" height="10.08" fill="#f6b4b4" />
<rect x="515.40" y="513.74" width="49.90" height="10.08" fill="#e85858" />
<rect x="564.30" y="513.74" width="48.90" height="10.08" fill="#e65050" />
<rect x="417.60" y="522.82" width="49.90" height="10.08" fill="#f8cccc" />
<rect x="466.50" y="522.82" width="49.90" height="10.08" fill="#f4a8a8" />
<rect x="515.40" y="522.82" width="49.90" height="10.08" fill="#ec6868" />
<rect x="564.30" y="522.82" width="48.90" height="10.08" fill="#e65050" />
<rect x="417.60" y="531.90" width="49.90" height="10.08" fill="#f8cccc" />
<rect x="466.50" y="531.90" width="49.90" height="10.08" fill="#f4a8a8" />
<rect x="515.40" y="531.90" width="49.90" height="10.08" fill="#e65858" />
<rect x="564.30" y="531.90" width="48.90" height="10.08" fill="#e65656" />
<rect x="417.60" y="540.98" width="49.90" height="10.08" fill="#ffffff" />
<rect x="466.50" y="540.98" width="49.90" height="10.08" fill="#fae8e8" />
<rect x="515.40" y="540.98" width="49.90" height="10.08" fill="#f29090" />
<rect x="564.30" y="540.98" width="48.90" height="10.08" fill="#ee7474" />
<rect x="417.60" y="550.06" width="49.90" height="10.08" fill="#f6b0b0" />
<rect x="466.50" y="550.06" width="49.90" height="10.08" fill="#f6b0b0" />
<rect x="515.40" y="550.06" width="49.90" height="10.08" fill="#f4a8a8" />
<rect x="564.30" y="550.06" width="48.90" height="10.08" fill="#f29c9c" />
<rect x="417.60" y="559.14" width="49.90" height="10.08" fill="#f6b8b8" />
<rect x="466.50" y="559.14" width="49.90" height="10.08" fill="#f8cccc" />
<rect x="515.40" y="559.14" width="49.90" height="10.08" fill="#f4a8a8" />
<rect x="564.30" y="559.14" width="48.90" height="10.08" fill="#f29c9c" />
<rect x="417.60" y="568.22" width="49.90" height="9.08" fill="#fae2e2" />
<rect x="466.50" y="568.22" width="49.90" height="9.08" fill="#f6b4b4" />
<rect x="515.40" y="568.22" width="49.90" height="9.08" fill="#f29c9c" />
<rect x="564.30" y="568.22" width="48.90" height="9.08" fill="#fae6e6" />
<rect x="417.60" y="395.70" width="195.60" height="181.60" fill="none" stroke="#0a0a0a" stroke-width="1.3"/>
<defs><linearGradient id="g6" x1="0" y1="0" x2="0" y2="1"><stop offset="0" stop-color="#dd2a2a"/><stop offset="0.35" stop-color="#e65555"/><stop offset="0.7" stop-color="#f4b0b0"/><stop offset="1" stop-color="#ffffff"/></linearGradient></defs>
<rect x="387.60" y="395.60" width="14.30" height="181.80" fill="url(#g6)" />
<line x1="387.60" y1="428.40" x2="390.60" y2="428.40" stroke="#111" stroke-width="1.5" />
<line x1="398.90" y1="428.40" x2="401.90" y2="428.40" stroke="#111" stroke-width="1.5" />
<line x1="387.60" y1="461.40" x2="390.60" y2="461.40" stroke="#111" stroke-width="1.5" />
<line x1="398.90" y1="461.40" x2="401.90" y2="461.40" stroke="#111" stroke-width="1.5" />
<line x1="387.60" y1="494.40" x2="390.60" y2="494.40" stroke="#111" stroke-width="1.5" />
<line x1="398.90" y1="494.40" x2="401.90" y2="494.40" stroke="#111" stroke-width="1.5" />
<line x1="387.60" y1="527.40" x2="390.60" y2="527.40" stroke="#111" stroke-width="1.5" />
<line x1="398.90" y1="527.40" x2="401.90" y2="527.40" stroke="#111" stroke-width="1.5" />
<line x1="387.60" y1="560.40" x2="390.60" y2="560.40" stroke="#111" stroke-width="1.5" />
<line x1="398.90" y1="560.40" x2="401.90" y2="560.40" stroke="#111" stroke-width="1.5" />
<rect x="387.60" y="395.60" width="14.30" height="181.80" fill="none" stroke="#111" stroke-width="1.25"/>
<text x="382.60" y="432.00" font-size="10" text-anchor="end" fill="#231f20" >4</text>
<text x="382.60" y="465.00" font-size="10" text-anchor="end" fill="#231f20" >3</text>
<text x="382.60" y="498.00" font-size="10" text-anchor="end" fill="#231f20" >2</text>
<text x="382.60" y="531.00" font-size="10" text-anchor="end" fill="#231f20" >1</text>
<text x="382.60" y="564.00" font-size="10" text-anchor="end" fill="#231f20" >0</text>
<text x="618.40" y="402.45" font-size="8.8" text-anchor="start" fill="#231f20" >Prpf4</text>
<text x="618.40" y="411.54" font-size="8.8" text-anchor="start" fill="#231f20" >Msn</text>
<text x="618.40" y="420.63" font-size="8.8" text-anchor="start" fill="#231f20" >Sltm</text>
<text x="618.40" y="429.72" font-size="8.8" text-anchor="start" fill="#231f20" >Rpl26</text>
<text x="618.40" y="438.81" font-size="8.8" text-anchor="start" fill="#231f20" >Safb2</text>
<text x="618.40" y="447.90" font-size="8.8" text-anchor="start" fill="#231f20" >Trmt10c</text>
<text x="618.40" y="456.99" font-size="8.8" text-anchor="start" fill="#231f20" >Hnrnpul2</text>
<text x="618.40" y="466.08" font-size="8.8" text-anchor="start" fill="#231f20" >Dhx16</text>
<text x="618.40" y="475.17" font-size="8.8" text-anchor="start" fill="#231f20" >Rpl10</text>
<text x="618.40" y="484.26" font-size="8.8" text-anchor="start" fill="#231f20" >Prpf39</text>
<text x="618.40" y="493.35" font-size="8.8" text-anchor="start" fill="#231f20" >C689899</text>
<text x="618.40" y="502.44" font-size="8.8" text-anchor="start" fill="#231f20" >Eif4b</text>
<text x="618.40" y="511.53" font-size="8.8" text-anchor="start" fill="#231f20" >Rps3a</text>
<text x="618.40" y="520.62" font-size="8.8" text-anchor="start" fill="#231f20" >Ptrf</text>
<text x="618.40" y="529.70" font-size="8.8" text-anchor="start" fill="#231f20" >Rps15a</text>
<text x="618.40" y="538.79" font-size="8.8" text-anchor="start" fill="#231f20" >Rpl35</text>
<text x="618.40" y="547.88" font-size="8.8" text-anchor="start" fill="#231f20" >Rbm10</text>
<text x="618.40" y="556.97" font-size="8.8" text-anchor="start" fill="#231f20" >Hnrnpm</text>
<text x="618.40" y="566.06" font-size="8.8" text-anchor="start" fill="#231f20" >Rps6</text>
<text x="618.40" y="575.15" font-size="8.8" text-anchor="start" fill="#231f20" >Mrpl16</text>
<line x1="669.40" y1="394.20" x2="669.40" y2="578.40" stroke="#111" stroke-width="2.0" />
<text x="0" y="0" font-size="10.2" text-anchor="middle" fill="#e8413b" transform="translate(677.30,486.30) rotate(90)">RNA</text>
<rect x="417.70" y="590.20" width="49.88" height="10.00" fill="#eaf4ea" />
<rect x="466.57" y="590.20" width="49.88" height="10.00" fill="#88c888" />
<rect x="515.45" y="590.20" width="49.88" height="10.00" fill="#1e8a40" />
<rect x="564.33" y="590.20" width="48.88" height="10.00" fill="#108038" />
<rect x="417.70" y="599.20" width="49.88" height="10.00" fill="#d8ecd8" />
<rect x="466.57" y="599.20" width="49.88" height="10.00" fill="#b8deb8" />
<rect x="515.45" y="599.20" width="49.88" height="10.00" fill="#68b868" />
<rect x="564.33" y="599.20" width="48.88" height="10.00" fill="#58b058" />
<rect x="417.70" y="608.20" width="49.88" height="9.00" fill="#eaf4ea" />
<rect x="466.57" y="608.20" width="49.88" height="9.00" fill="#eaf4ea" />
<rect x="515.45" y="608.20" width="49.88" height="9.00" fill="#a0d4a0" />
<rect x="564.33" y="608.20" width="48.88" height="9.00" fill="#58b058" />
<rect x="417.70" y="590.20" width="195.50" height="27.00" fill="none" stroke="#0a0a0a" stroke-width="1.3"/>
<defs><linearGradient id="g7" x1="0" y1="0" x2="0" y2="1"><stop offset="0" stop-color="#0c7a30"/><stop offset="0.5" stop-color="#60b060"/><stop offset="1" stop-color="#ffffff"/></linearGradient></defs>
<rect x="387.60" y="589.60" width="14.30" height="27.80" fill="url(#g7)" />
<line x1="387.60" y1="595.00" x2="390.60" y2="595.00" stroke="#111" stroke-width="1.5" />
<line x1="398.90" y1="595.00" x2="401.90" y2="595.00" stroke="#111" stroke-width="1.5" />
<line x1="387.60" y1="605.20" x2="390.60" y2="605.20" stroke="#111" stroke-width="1.5" />
<line x1="398.90" y1="605.20" x2="401.90" y2="605.20" stroke="#111" stroke-width="1.5" />
<line x1="387.60" y1="615.40" x2="390.60" y2="615.40" stroke="#111" stroke-width="1.5" />
<line x1="398.90" y1="615.40" x2="401.90" y2="615.40" stroke="#111" stroke-width="1.5" />
<rect x="387.60" y="589.60" width="14.30" height="27.80" fill="none" stroke="#111" stroke-width="1.25"/>
<text x="382.60" y="598.60" font-size="10" text-anchor="end" fill="#231f20" >4</text>
<text x="382.60" y="619.00" font-size="10" text-anchor="end" fill="#231f20" >0</text>
<text x="618.40" y="596.53" font-size="8.8" text-anchor="start" fill="#231f20" >Map7d2</text>
<text x="618.40" y="605.80" font-size="8.8" text-anchor="start" fill="#231f20" >Map7d1</text>
<text x="618.40" y="615.07" font-size="8.8" text-anchor="start" fill="#231f20" >Map9</text>
<line x1="669.50" y1="591.10" x2="669.50" y2="619.30" stroke="#111" stroke-width="2.0" />
<text x="0" y="0" font-size="10.2" text-anchor="middle" fill="#2a9e50" transform="translate(677.30,605.10) rotate(90)">MAPs</text>
<rect x="417.50" y="629.20" width="49.93" height="10.06" fill="#9a96cc" />
<rect x="466.43" y="629.20" width="49.93" height="10.06" fill="#5054a8" />
<rect x="515.35" y="629.20" width="49.93" height="10.06" fill="#3f48a0" />
<rect x="564.28" y="629.20" width="48.93" height="10.06" fill="#3f48a0" />
<rect x="417.50" y="638.26" width="49.93" height="10.06" fill="#9a96cc" />
<rect x="466.43" y="638.26" width="49.93" height="10.06" fill="#8e8ac4" />
<rect x="515.35" y="638.26" width="49.93" height="10.06" fill="#4a50a7" />
<rect x="564.28" y="638.26" width="48.93" height="10.06" fill="#4248a3" />
<rect x="417.50" y="647.33" width="49.93" height="10.06" fill="#ffffff" />
<rect x="466.43" y="647.33" width="49.93" height="10.06" fill="#a8a6d4" />
<rect x="515.35" y="647.33" width="49.93" height="10.06" fill="#5657ac" />
<rect x="564.28" y="647.33" width="48.93" height="10.06" fill="#4a50a7" />
<rect x="417.50" y="656.39" width="49.93" height="10.06" fill="#ececf4" />
<rect x="466.43" y="656.39" width="49.93" height="10.06" fill="#a8a6d4" />
<rect x="515.35" y="656.39" width="49.93" height="10.06" fill="#4a50a7" />
<rect x="564.28" y="656.39" width="48.93" height="10.06" fill="#4a50a7" />
<rect x="417.50" y="665.46" width="49.93" height="10.06" fill="#ececf4" />
<rect x="466.43" y="665.46" width="49.93" height="10.06" fill="#a8a6d4" />
<rect x="515.35" y="665.46" width="49.93" height="10.06" fill="#6664b2" />
<rect x="564.28" y="665.46" width="48.93" height="10.06" fill="#5557ac" />
<rect x="417.50" y="674.52" width="49.93" height="10.06" fill="#c4c2e0" />
<rect x="466.43" y="674.52" width="49.93" height="10.06" fill="#c4c2e0" />
<rect x="515.35" y="674.52" width="49.93" height="10.06" fill="#5557ac" />
<rect x="564.28" y="674.52" width="48.93" height="10.06" fill="#5557ac" />
<rect x="417.50" y="683.59" width="49.93" height="10.06" fill="#ececf4" />
<rect x="466.43" y="683.59" width="49.93" height="10.06" fill="#ececf4" />
<rect x="515.35" y="683.59" width="49.93" height="10.06" fill="#5c5cae" />
<rect x="564.28" y="683.59" width="48.93" height="10.06" fill="#5c5cae" />
<rect x="417.50" y="692.65" width="49.93" height="10.06" fill="#ececf4" />
<rect x="466.43" y="692.65" width="49.93" height="10.06" fill="#a8a6d4" />
<rect x="515.35" y="692.65" width="49.93" height="10.06" fill="#5c5cae" />
<rect x="564.28" y="692.65" width="48.93" height="10.06" fill="#5c5cae" />
<rect x="417.50" y="701.72" width="49.93" height="10.06" fill="#ececf4" />
<rect x="466.43" y="701.72" width="49.93" height="10.06" fill="#ececf4" />
<rect x="515.35" y="701.72" width="49.93" height="10.06" fill="#7876ba" />
<rect x="564.28" y="701.72" width="48.93" height="10.06" fill="#5c5cae" />
<rect x="417.50" y="710.78" width="49.93" height="10.06" fill="#c4c2e0" />
<rect x="466.43" y="710.78" width="49.93" height="10.06" fill="#c4c2e0" />
<rect x="515.35" y="710.78" width="49.93" height="10.06" fill="#6462b0" />
<rect x="564.28" y="710.78" width="48.93" height="10.06" fill="#5c5cae" />
<rect x="417.50" y="719.85" width="49.93" height="10.06" fill="#ececf4" />
<rect x="466.43" y="719.85" width="49.93" height="10.06" fill="#c4c2e0" />
<rect x="515.35" y="719.85" width="49.93" height="10.06" fill="#7270b6" />
<rect x="564.28" y="719.85" width="48.93" height="10.06" fill="#6060b0" />
<rect x="417.50" y="728.91" width="49.93" height="10.06" fill="#ececf4" />
<rect x="466.43" y="728.91" width="49.93" height="10.06" fill="#ececf4" />
<rect x="515.35" y="728.91" width="49.93" height="10.06" fill="#8e8ac4" />
<rect x="564.28" y="728.91" width="48.93" height="10.06" fill="#6462b0" />
<rect x="417.50" y="737.98" width="49.93" height="10.06" fill="#f4f4f8" />
<rect x="466.43" y="737.98" width="49.93" height="10.06" fill="#dcdaec" />
<rect x="515.35" y="737.98" width="49.93" height="10.06" fill="#7270b6" />
<rect x="564.28" y="737.98" width="48.93" height="10.06" fill="#6c6ab4" />
<rect x="417.50" y="747.04" width="49.93" height="10.06" fill="#d2d0e6" />
<rect x="466.43" y="747.04" width="49.93" height="10.06" fill="#ececf4" />
<rect x="515.35" y="747.04" width="49.93" height="10.06" fill="#7270b6" />
<rect x="564.28" y="747.04" width="48.93" height="10.06" fill="#7270b6" />
<rect x="417.50" y="756.11" width="49.93" height="10.06" fill="#c4c2e0" />
<rect x="466.43" y="756.11" width="49.93" height="10.06" fill="#c4c2e0" />
<rect x="515.35" y="756.11" width="49.93" height="10.06" fill="#8e8ac4" />
<rect x="564.28" y="756.11" width="48.93" height="10.06" fill="#7270b6" />
<rect x="417.50" y="765.17" width="49.93" height="10.06" fill="#ececf4" />
<rect x="466.43" y="765.17" width="49.93" height="10.06" fill="#ececf4" />
<rect x="515.35" y="765.17" width="49.93" height="10.06" fill="#8e8ac4" />
<rect x="564.28" y="765.17" width="48.93" height="10.06" fill="#8e8ac4" />
<rect x="417.50" y="774.24" width="49.93" height="9.06" fill="#dcdaec" />
<rect x="466.43" y="774.24" width="49.93" height="9.06" fill="#ffffff" />
<rect x="515.35" y="774.24" width="49.93" height="9.06" fill="#8e8ac4" />
<rect x="564.28" y="774.24" width="48.93" height="9.06" fill="#c4c2e0" />
<rect x="417.50" y="629.20" width="195.70" height="154.10" fill="none" stroke="#0a0a0a" stroke-width="1.3"/>
<defs><linearGradient id="g8" x1="0" y1="0" x2="0" y2="1"><stop offset="0" stop-color="#3d47a0"/><stop offset="0.4" stop-color="#7270b6"/><stop offset="0.88" stop-color="#e8e7f2"/><stop offset="0.905" stop-color="#fdfdfe"/><stop offset="1" stop-color="#ffffff"/></linearGradient></defs>
<rect x="387.60" y="629.00" width="14.30" height="154.40" fill="url(#g8)" />
<line x1="387.60" y1="632.40" x2="390.60" y2="632.40" stroke="#111" stroke-width="1.5" />
<line x1="398.90" y1="632.40" x2="401.90" y2="632.40" stroke="#111" stroke-width="1.5" />
<line x1="387.60" y1="655.80" x2="390.60" y2="655.80" stroke="#111" stroke-width="1.5" />
<line x1="398.90" y1="655.80" x2="401.90" y2="655.80" stroke="#111" stroke-width="1.5" />
<line x1="387.60" y1="679.10" x2="390.60" y2="679.10" stroke="#111" stroke-width="1.5" />
<line x1="398.90" y1="679.10" x2="401.90" y2="679.10" stroke="#111" stroke-width="1.5" />
<line x1="387.60" y1="702.40" x2="390.60" y2="702.40" stroke="#111" stroke-width="1.5" />
<line x1="398.90" y1="702.40" x2="401.90" y2="702.40" stroke="#111" stroke-width="1.5" />
<line x1="387.60" y1="725.70" x2="390.60" y2="725.70" stroke="#111" stroke-width="1.5" />
<line x1="398.90" y1="725.70" x2="401.90" y2="725.70" stroke="#111" stroke-width="1.5" />
<line x1="387.60" y1="749.00" x2="390.60" y2="749.00" stroke="#111" stroke-width="1.5" />
<line x1="398.90" y1="749.00" x2="401.90" y2="749.00" stroke="#111" stroke-width="1.5" />
<line x1="387.60" y1="772.30" x2="390.60" y2="772.30" stroke="#111" stroke-width="1.5" />
<line x1="398.90" y1="772.30" x2="401.90" y2="772.30" stroke="#111" stroke-width="1.5" />
<rect x="387.60" y="629.00" width="14.30" height="154.40" fill="none" stroke="#111" stroke-width="1.25"/>
<text x="382.60" y="636.00" font-size="10" text-anchor="end" fill="#231f20" >6</text>
<text x="382.60" y="659.40" font-size="10" text-anchor="end" fill="#231f20" >5</text>
<text x="382.60" y="682.70" font-size="10" text-anchor="end" fill="#231f20" >4</text>
<text x="382.60" y="706.00" font-size="10" text-anchor="end" fill="#231f20" >3</text>
<text x="382.60" y="729.30" font-size="10" text-anchor="end" fill="#231f20" >2</text>
<text x="382.60" y="752.60" font-size="10" text-anchor="end" fill="#231f20" >1</text>
<text x="382.60" y="775.90" font-size="10" text-anchor="end" fill="#231f20" >0</text>
<text x="618.40" y="635.84" font-size="8.8" text-anchor="start" fill="#231f20" >Ccdc177</text>
<text x="618.40" y="644.92" font-size="8.8" text-anchor="start" fill="#231f20" >Rdx</text>
<text x="618.40" y="654.01" font-size="8.8" text-anchor="start" fill="#231f20" >Tbc1d10b</text>
<text x="618.40" y="663.09" font-size="8.8" text-anchor="start" fill="#231f20" >Sap30bp</text>
<text x="618.40" y="672.17" font-size="8.8" text-anchor="start" fill="#231f20" >Gtpbp4</text>
<text x="618.40" y="681.25" font-size="8.8" text-anchor="start" fill="#231f20" >Erc2</text>
<text x="618.40" y="690.34" font-size="8.8" text-anchor="start" fill="#231f20" >Akap17a</text>
<text x="618.40" y="699.42" font-size="8.8" text-anchor="start" fill="#231f20" >Chmp2b</text>
<text x="618.40" y="708.50" font-size="8.8" text-anchor="start" fill="#231f20" >Glyr1</text>
<text x="618.40" y="717.58" font-size="8.8" text-anchor="start" fill="#231f20" >Erc1</text>
<text x="618.40" y="726.66" font-size="8.8" text-anchor="start" fill="#231f20" >Dnttip2</text>
<text x="618.40" y="735.75" font-size="8.8" text-anchor="start" fill="#231f20" >Coro2b</text>
<text x="618.40" y="744.83" font-size="8.8" text-anchor="start" fill="#231f20" >Ddo</text>
<text x="618.40" y="753.91" font-size="8.8" text-anchor="start" fill="#231f20" >Stk38l</text>
<text x="618.40" y="762.99" font-size="8.8" text-anchor="start" fill="#231f20" >Evl</text>
<text x="618.40" y="772.08" font-size="8.8" text-anchor="start" fill="#231f20" >Rab11fip2</text>
<text x="618.40" y="781.16" font-size="8.8" text-anchor="start" fill="#231f20" >Dek</text>
<line x1="669.00" y1="630.30" x2="669.00" y2="784.70" stroke="#111" stroke-width="2.0" />
<text x="0" y="0" font-size="10.2" text-anchor="middle" fill="#4a50b0" transform="translate(677.30,707.20) rotate(90)">Other</text>
<text x="436.20" y="796.00" font-size="10.2" text-anchor="middle" fill="#231f20" >0</text>
<text x="486.50" y="796.00" font-size="10.2" text-anchor="middle" fill="#231f20" >1</text>
<text x="535.30" y="796.00" font-size="10.2" text-anchor="middle" fill="#231f20" >8</text>
<text x="584.80" y="796.00" font-size="10.2" text-anchor="middle" fill="#231f20" >24</text>
<line x1="417.70" y1="801.60" x2="611.00" y2="801.60" stroke="#111" stroke-width="1.6" />
<text x="514.30" y="814.30" font-size="10.2" text-anchor="middle" fill="#231f20" >Hours of aggregation</text></svg>
</body></html>
